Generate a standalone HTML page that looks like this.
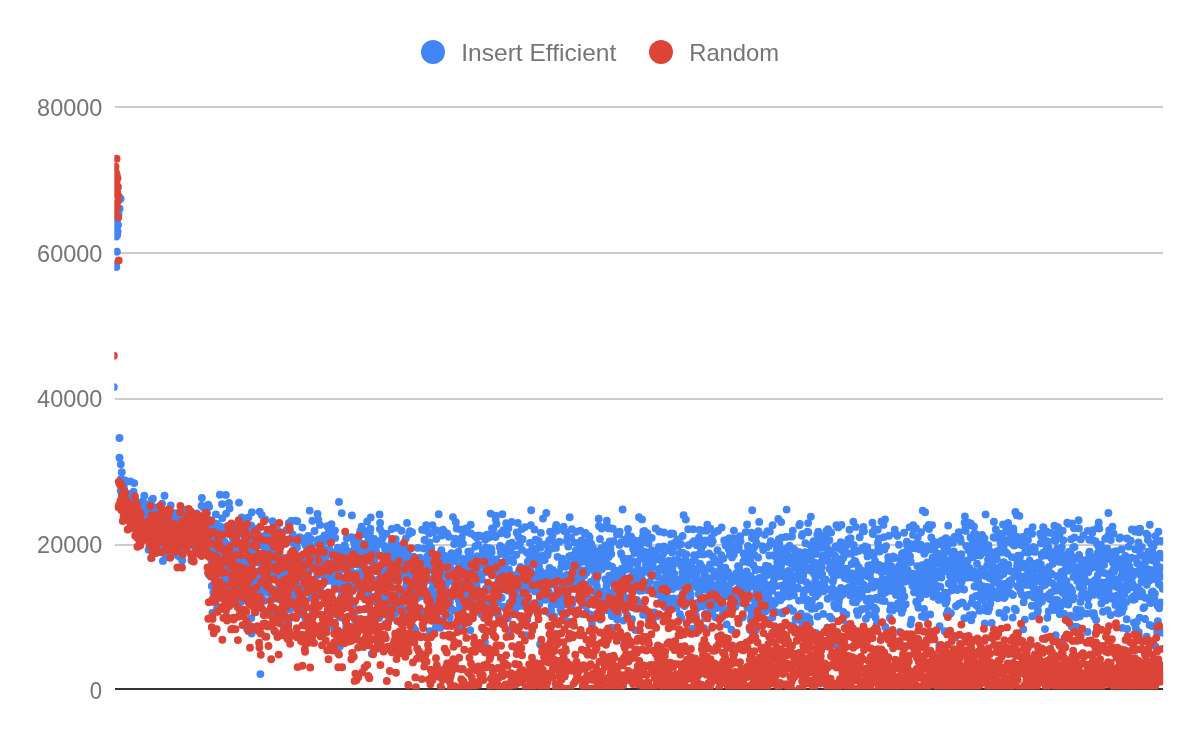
<!DOCTYPE html>
<html><head><meta charset="utf-8"><title>Chart</title>
<style>
html,body{margin:0;padding:0;background:#fff;}
svg{display:block}
text{font-family:"Liberation Sans",sans-serif;fill:#757575}
</style></head><body>
<svg width="1200" height="742" viewBox="0 0 1200 742">
<rect width="1200" height="742" fill="#fff"/>
<defs><clipPath id="c"><rect x="114.3" y="100" width="1048.9" height="589.6"/></clipPath></defs>
<g fill="#ccc">
<rect x="115" y="106" width="1048" height="2"/>
<rect x="115" y="252" width="1048" height="2"/>
<rect x="115" y="398" width="1048" height="2"/>
<rect x="115" y="544" width="1048" height="2"/>
</g>
<rect x="115" y="688" width="1048" height="2" fill="#333"/>
<g clip-path="url(#c)" fill="none" stroke-width="7.9" stroke-linecap="round">
<path stroke="#4285f4" d="M113.8 387.1h0M116.9 251.8h0M116.3 267.1h0M116.0 264.1h0M120.6 198.7h0M119.6 208.8h0M117.5 219.0h0M118.5 213.9h0M117.0 229.2h0M116.5 233.6h0M117.6 231.4h0M116.2 236.5h0M117.2 235.0h0M115.5 227.8h0M118.0 224.9h0M115.2 221.9h0M119.5 438.0h0M119.5 457.7h0M120.8 464.2h0M121.8 472.2h0M122.5 482.4h0M121.0 478.8h0M134.2 483.1h0M123.0 488.2h0M124.0 491.1h0M120.7 490.7h0M121.0 481.7h0M121.2 479.0h0M121.5 490.1h0M121.8 496.6h0M122.0 489.5h0M122.3 487.0h0M122.6 483.9h0M122.8 499.9h0M123.1 501.3h0M123.4 489.0h0M123.6 491.2h0M123.9 485.0h0M124.2 489.2h0M124.4 496.9h0M124.7 498.6h0M125.0 480.5h0M125.3 499.7h0M125.5 503.4h0M125.8 506.2h0M126.1 498.5h0M126.3 498.6h0M126.6 502.1h0M126.9 500.6h0M127.1 498.7h0M127.4 496.3h0M127.7 493.9h0M127.9 499.9h0M128.2 513.3h0M128.5 497.2h0M128.7 511.3h0M129.0 503.3h0M129.3 512.0h0M129.6 502.5h0M129.8 507.8h0M130.1 501.4h0M130.4 481.4h0M130.6 503.4h0M130.9 497.7h0M131.2 512.0h0M131.4 505.3h0M131.7 499.2h0M132.0 504.2h0M132.2 501.3h0M132.5 503.1h0M132.8 510.4h0M133.1 500.2h0M133.3 509.3h0M133.6 491.8h0M133.9 507.4h0M134.1 499.7h0M134.4 504.2h0M134.7 498.0h0M134.9 508.3h0M135.2 509.5h0M135.5 523.5h0M135.7 506.5h0M136.0 514.5h0M136.3 520.6h0M136.5 532.1h0M136.8 513.1h0M137.1 516.9h0M137.4 502.5h0M137.6 527.6h0M137.9 516.2h0M138.2 516.9h0M138.4 519.8h0M138.7 520.8h0M139.0 521.2h0M139.2 531.0h0M139.5 536.3h0M139.8 528.7h0M140.0 516.6h0M140.3 505.4h0M140.6 512.1h0M140.8 511.3h0M141.1 514.8h0M141.4 515.9h0M141.7 522.4h0M141.9 515.2h0M142.2 502.9h0M142.5 529.1h0M142.7 533.7h0M143.0 501.0h0M143.3 522.3h0M143.5 513.5h0M143.8 514.8h0M144.1 539.7h0M144.3 495.7h0M144.6 504.0h0M144.9 523.9h0M145.1 516.9h0M145.4 524.7h0M145.7 537.3h0M146.0 527.9h0M146.2 522.0h0M146.5 512.9h0M146.8 518.1h0M147.0 526.2h0M147.3 510.3h0M147.6 536.6h0M147.8 517.5h0M148.1 513.7h0M148.4 531.2h0M148.6 549.8h0M148.9 539.0h0M149.2 525.0h0M149.4 521.5h0M149.7 509.0h0M150.0 540.7h0M150.3 528.3h0M150.5 520.5h0M150.8 530.5h0M151.1 558.0h0M151.3 518.8h0M151.6 500.3h0M151.9 516.6h0M152.1 540.5h0M152.4 534.4h0M152.7 526.7h0M152.9 498.7h0M153.2 522.0h0M153.5 528.3h0M153.8 510.6h0M154.0 531.0h0M154.3 507.1h0M154.6 538.7h0M154.8 536.2h0M155.1 521.5h0M155.4 512.8h0M155.6 522.3h0M155.9 526.7h0M156.2 553.0h0M156.4 539.3h0M156.7 538.0h0M157.0 537.1h0M157.2 523.2h0M157.5 534.6h0M157.8 520.7h0M158.1 529.5h0M158.3 534.6h0M158.6 529.0h0M158.9 525.2h0M159.1 519.9h0M159.4 536.4h0M159.7 533.4h0M159.9 547.4h0M160.2 510.7h0M160.5 512.6h0M160.7 532.8h0M161.0 536.5h0M161.3 545.9h0M161.5 528.5h0M161.8 528.0h0M162.1 503.6h0M162.4 527.6h0M162.6 540.2h0M162.9 560.9h0M163.2 513.2h0M163.4 528.3h0M163.7 550.5h0M164.0 528.4h0M164.2 550.6h0M164.5 495.7h0M164.8 516.8h0M165.0 523.6h0M165.3 532.9h0M165.6 557.2h0M165.8 532.3h0M166.1 549.9h0M166.4 523.3h0M166.7 557.2h0M166.9 542.0h0M167.2 515.7h0M167.5 510.4h0M167.7 545.4h0M168.0 549.7h0M168.3 519.9h0M168.5 520.2h0M168.8 543.0h0M169.1 539.4h0M169.3 539.4h0M169.6 545.5h0M169.9 539.2h0M170.2 515.4h0M170.4 522.3h0M170.7 505.4h0M171.0 531.9h0M171.2 532.5h0M171.5 543.0h0M171.8 532.4h0M172.0 547.1h0M172.3 552.9h0M172.6 522.3h0M172.8 513.1h0M173.1 520.6h0M173.4 514.4h0M173.6 527.8h0M173.9 539.8h0M174.2 529.9h0M174.5 535.6h0M174.7 544.7h0M175.0 551.9h0M175.3 549.3h0M175.5 531.0h0M175.8 529.1h0M176.1 536.9h0M176.3 513.3h0M176.6 528.8h0M176.9 523.8h0M177.1 515.9h0M177.4 541.2h0M177.7 555.4h0M177.9 521.7h0M178.2 539.6h0M178.5 514.8h0M178.8 526.9h0M179.0 518.6h0M179.3 521.6h0M179.6 556.8h0M179.8 522.2h0M180.1 539.4h0M180.4 540.5h0M180.6 536.5h0M180.9 521.6h0M181.2 520.2h0M181.4 518.6h0M181.7 551.7h0M182.0 538.4h0M182.2 560.5h0M182.5 532.4h0M182.8 523.7h0M183.1 540.6h0M183.3 528.2h0M183.6 528.3h0M183.9 518.7h0M184.1 541.4h0M184.4 541.5h0M184.7 540.7h0M184.9 509.6h0M185.2 517.7h0M185.5 532.8h0M185.7 528.5h0M186.0 529.8h0M186.3 528.8h0M186.6 533.9h0M186.8 535.4h0M187.1 546.8h0M187.4 539.2h0M187.6 510.9h0M187.9 524.7h0M188.2 530.5h0M188.4 534.0h0M188.7 530.6h0M189.0 527.0h0M189.2 539.3h0M189.5 528.9h0M189.8 528.4h0M190.0 540.6h0M190.3 541.1h0M190.6 543.7h0M190.9 544.5h0M191.1 520.4h0M191.4 560.6h0M191.7 534.7h0M191.9 539.0h0M192.2 539.1h0M192.5 530.2h0M192.7 517.5h0M193.0 530.5h0M193.3 533.2h0M193.5 539.0h0M193.8 533.1h0M194.1 520.2h0M194.3 536.4h0M194.6 545.7h0M194.9 547.1h0M195.2 545.2h0M195.4 548.7h0M195.7 517.9h0M196.0 527.1h0M196.2 534.5h0M196.5 513.5h0M196.8 539.7h0M197.0 522.2h0M197.3 521.7h0M197.6 550.7h0M197.8 550.8h0M198.1 543.1h0M198.4 520.4h0M198.6 515.6h0M198.9 546.8h0M199.2 518.7h0M199.5 536.4h0M199.7 536.5h0M200.0 538.5h0M200.3 535.7h0M200.5 554.1h0M200.8 544.0h0M201.1 547.0h0M201.3 525.6h0M201.6 505.8h0M201.9 497.9h0M202.1 535.9h0M202.4 553.0h0M202.7 536.7h0M203.0 543.3h0M203.2 507.2h0M203.5 524.7h0M203.8 540.8h0M204.0 520.2h0M204.3 525.1h0M204.6 551.9h0M204.8 538.3h0M205.1 534.7h0M205.4 531.6h0M205.6 530.2h0M205.9 536.0h0M206.2 529.5h0M206.4 539.1h0M206.7 542.9h0M207.0 513.1h0M207.3 527.4h0M207.5 526.4h0M207.8 551.6h0M208.1 527.8h0M208.3 504.8h0M208.6 574.2h0M208.9 546.7h0M209.1 506.8h0M209.4 532.3h0M209.7 556.4h0M209.9 529.0h0M210.2 550.1h0M210.5 520.1h0M210.7 557.0h0M211.0 559.0h0M211.3 554.8h0M211.6 538.7h0M211.8 586.0h0M212.1 539.4h0M212.4 613.0h0M212.6 523.7h0M212.9 573.3h0M213.2 564.9h0M213.4 592.5h0M213.7 554.8h0M214.0 536.5h0M214.2 562.5h0M214.5 559.5h0M214.8 542.5h0M215.0 545.6h0M215.3 523.5h0M215.6 601.9h0M215.9 514.4h0M216.1 527.0h0M216.4 526.5h0M216.7 523.9h0M216.9 608.8h0M217.2 526.5h0M217.5 542.5h0M217.7 550.3h0M218.0 573.0h0M218.3 541.0h0M218.5 581.1h0M218.8 531.2h0M219.1 573.3h0M219.3 555.6h0M219.6 559.5h0M219.9 494.8h0M220.2 527.7h0M220.4 558.1h0M220.7 526.6h0M221.0 535.5h0M221.2 558.3h0M221.5 533.7h0M221.8 535.3h0M222.0 504.1h0M222.3 518.2h0M222.6 560.0h0M222.8 561.2h0M223.1 590.4h0M223.4 587.7h0M223.7 562.7h0M223.9 563.1h0M224.2 541.2h0M224.5 529.2h0M224.7 578.8h0M225.0 580.4h0M225.3 546.8h0M225.5 546.6h0M225.8 494.9h0M226.1 513.6h0M226.3 544.3h0M226.6 548.3h0M226.9 564.9h0M227.1 526.4h0M227.4 553.4h0M227.7 552.3h0M228.0 557.9h0M228.2 568.3h0M228.5 571.4h0M228.8 571.5h0M229.0 503.0h0M229.3 533.9h0M229.6 508.5h0M229.8 589.1h0M230.1 526.7h0M230.4 551.5h0M230.6 577.4h0M230.9 566.3h0M231.2 555.9h0M231.4 553.2h0M231.7 529.7h0M232.0 578.4h0M232.3 549.0h0M232.5 550.4h0M232.8 538.4h0M233.1 567.9h0M233.3 538.6h0M233.6 562.9h0M233.9 542.3h0M234.1 587.7h0M234.4 550.5h0M234.7 589.2h0M234.9 526.5h0M235.2 526.3h0M235.5 531.5h0M235.7 547.0h0M236.0 537.9h0M236.3 548.8h0M236.6 544.7h0M236.8 562.0h0M237.1 535.2h0M237.4 541.6h0M237.6 589.2h0M237.9 529.3h0M238.2 562.4h0M238.4 584.5h0M238.7 525.0h0M239.0 502.6h0M239.2 559.2h0M239.5 533.4h0M239.8 559.5h0M240.1 574.3h0M240.3 565.5h0M240.6 526.7h0M240.9 601.9h0M241.1 578.4h0M241.4 562.9h0M241.7 517.5h0M241.9 557.2h0M242.2 533.7h0M242.5 578.8h0M242.7 532.4h0M243.0 558.0h0M243.3 599.3h0M243.5 527.8h0M243.8 567.5h0M244.1 525.6h0M244.4 522.9h0M244.6 561.8h0M244.9 537.3h0M245.2 542.5h0M245.4 549.4h0M245.7 559.5h0M246.0 564.8h0M246.2 572.6h0M246.5 524.1h0M246.8 573.1h0M247.0 628.7h0M247.3 600.8h0M247.6 546.7h0M247.8 558.3h0M248.1 558.6h0M248.4 517.4h0M248.7 530.4h0M248.9 529.0h0M249.2 601.0h0M249.5 534.1h0M249.7 597.3h0M250.0 549.4h0M250.3 551.4h0M250.5 540.2h0M250.8 563.7h0M251.1 525.5h0M251.3 618.1h0M251.6 633.6h0M251.9 512.3h0M252.1 583.2h0M252.4 559.2h0M252.7 535.5h0M253.0 530.7h0M253.2 543.3h0M253.5 549.6h0M253.8 592.7h0M254.0 591.7h0M254.3 549.6h0M254.6 604.6h0M254.8 545.9h0M255.1 581.1h0M255.4 571.6h0M255.6 612.3h0M255.9 546.5h0M256.2 578.9h0M256.5 582.7h0M256.7 599.3h0M257.0 531.2h0M257.3 528.7h0M257.5 545.0h0M257.8 542.0h0M258.1 574.5h0M258.3 576.7h0M258.6 606.1h0M258.9 536.6h0M259.1 554.1h0M259.4 562.7h0M259.7 511.8h0M259.9 527.6h0M260.2 594.1h0M260.5 601.9h0M260.8 543.7h0M261.0 573.5h0M261.3 558.9h0M261.6 597.8h0M261.8 515.1h0M262.1 587.4h0M262.4 592.0h0M262.6 545.8h0M262.9 565.3h0M263.2 599.6h0M263.4 573.1h0M263.7 582.5h0M264.0 539.0h0M264.2 577.4h0M264.5 600.8h0M264.8 535.6h0M265.1 541.1h0M265.3 519.4h0M265.6 546.7h0M265.9 584.4h0M266.1 571.5h0M266.4 578.8h0M266.7 542.6h0M266.9 572.2h0M267.2 551.8h0M267.5 534.5h0M267.7 572.3h0M268.0 566.9h0M268.3 584.6h0M268.5 553.9h0M268.8 593.0h0M269.1 591.3h0M269.4 575.7h0M269.6 551.3h0M269.9 591.1h0M270.2 591.5h0M270.4 564.0h0M270.7 541.7h0M271.0 566.9h0M271.2 531.7h0M271.5 544.3h0M271.8 614.5h0M272.0 545.7h0M272.3 568.8h0M272.6 521.2h0M272.9 537.0h0M273.1 562.9h0M273.4 596.9h0M273.7 576.0h0M273.9 534.0h0M274.2 598.8h0M274.5 531.5h0M274.7 570.7h0M275.0 553.6h0M275.3 631.9h0M275.5 539.9h0M275.8 531.6h0M276.1 549.7h0M276.3 575.6h0M276.6 544.4h0M276.9 572.0h0M277.2 589.2h0M277.4 569.3h0M277.7 530.4h0M278.0 565.8h0M278.2 537.8h0M278.5 541.4h0M278.8 592.0h0M279.0 598.7h0M279.3 574.6h0M279.6 598.3h0M279.8 560.0h0M280.1 568.5h0M280.4 571.1h0M280.6 569.7h0M280.9 557.3h0M281.2 575.2h0M281.5 535.4h0M281.7 557.5h0M282.0 578.2h0M282.3 571.3h0M282.5 558.1h0M282.8 540.0h0M283.1 623.7h0M283.3 613.3h0M283.6 599.1h0M283.9 584.5h0M284.1 567.4h0M284.4 596.4h0M284.7 543.6h0M284.9 574.0h0M285.2 565.5h0M285.5 572.9h0M285.8 580.8h0M286.0 605.1h0M286.3 558.5h0M286.6 529.9h0M286.8 628.1h0M287.1 530.1h0M287.4 581.2h0M287.6 586.4h0M287.9 577.6h0M288.2 594.9h0M288.4 621.9h0M288.7 523.1h0M289.0 540.5h0M289.2 569.0h0M289.5 526.0h0M289.8 591.5h0M290.1 609.6h0M290.3 569.5h0M290.6 576.6h0M290.9 567.9h0M291.1 520.9h0M291.4 570.7h0M291.7 584.4h0M291.9 603.0h0M292.2 587.9h0M292.5 555.4h0M292.7 534.5h0M293.0 543.0h0M293.3 599.3h0M293.6 563.7h0M293.8 576.4h0M294.1 593.3h0M294.4 579.1h0M294.6 562.2h0M294.9 551.6h0M295.2 602.5h0M295.4 575.1h0M295.7 520.7h0M296.0 586.4h0M296.2 584.0h0M296.5 568.5h0M296.8 567.5h0M297.0 547.5h0M297.3 521.3h0M297.6 573.6h0M297.9 598.8h0M298.1 589.5h0M298.4 557.4h0M298.7 571.5h0M298.9 558.8h0M299.2 540.5h0M299.5 537.3h0M299.7 608.4h0M300.0 585.5h0M300.3 596.1h0M300.5 607.4h0M300.8 567.4h0M301.1 602.0h0M301.3 614.4h0M301.6 570.9h0M301.9 590.7h0M302.2 600.4h0M302.4 527.6h0M302.7 602.3h0M303.0 538.7h0M303.2 573.6h0M303.5 603.1h0M303.8 585.0h0M304.0 592.8h0M304.3 558.2h0M304.6 563.4h0M304.8 579.3h0M305.1 543.8h0M305.4 618.5h0M305.6 601.1h0M305.9 545.6h0M306.2 574.0h0M306.5 553.9h0M306.7 585.8h0M307.0 587.3h0M307.3 583.9h0M307.5 564.5h0M307.8 544.1h0M308.1 535.9h0M308.3 578.7h0M308.6 560.4h0M308.9 571.4h0M309.1 551.1h0M309.4 544.6h0M309.7 510.6h0M310.0 545.1h0M310.2 556.9h0M310.5 563.5h0M310.8 616.7h0M311.0 538.9h0M311.3 557.5h0M311.6 597.2h0M311.8 550.4h0M312.1 560.4h0M312.4 520.8h0M312.6 553.4h0M312.9 612.1h0M313.2 556.6h0M313.4 582.2h0M313.7 566.8h0M314.0 586.7h0M314.3 605.2h0M314.5 531.0h0M314.8 558.5h0M315.1 580.0h0M315.3 566.7h0M315.6 591.8h0M315.9 596.0h0M316.1 565.9h0M316.4 589.2h0M316.7 587.8h0M316.9 569.8h0M317.2 573.3h0M317.5 514.0h0M317.7 543.6h0M318.0 575.1h0M318.3 519.6h0M318.6 539.4h0M318.8 543.4h0M319.1 585.6h0M319.4 560.8h0M319.6 594.9h0M319.9 524.9h0M320.2 539.4h0M320.4 541.9h0M320.7 595.9h0M321.0 586.6h0M321.2 557.2h0M321.5 560.4h0M321.8 569.3h0M322.0 568.1h0M322.3 635.5h0M322.6 538.1h0M322.9 538.9h0M323.1 568.5h0M323.4 548.6h0M323.7 555.0h0M323.9 575.7h0M324.2 595.4h0M324.5 535.4h0M324.7 539.0h0M325.0 569.4h0M325.3 557.5h0M325.5 574.9h0M325.8 552.9h0M326.1 618.6h0M326.4 541.3h0M326.6 626.3h0M326.9 551.7h0M327.2 526.2h0M327.4 572.0h0M327.7 535.2h0M328.0 580.7h0M328.2 566.7h0M328.5 574.7h0M328.8 532.3h0M329.0 574.8h0M329.3 549.1h0M329.6 575.2h0M329.8 601.7h0M330.1 535.8h0M330.4 566.2h0M330.7 551.4h0M330.9 554.3h0M331.2 524.7h0M331.5 524.3h0M331.7 540.0h0M332.0 613.3h0M332.3 572.3h0M332.5 530.8h0M332.8 569.5h0M333.1 531.5h0M333.3 577.7h0M333.6 559.6h0M333.9 557.8h0M334.1 628.8h0M334.4 583.8h0M334.7 588.3h0M335.0 530.6h0M335.2 537.9h0M335.5 576.6h0M335.8 584.2h0M336.0 573.5h0M336.3 578.0h0M336.6 552.9h0M336.8 561.1h0M337.1 553.2h0M337.4 572.6h0M337.6 558.8h0M337.9 547.8h0M338.2 614.2h0M338.4 587.7h0M338.7 550.7h0M339.0 501.9h0M339.3 553.8h0M339.5 617.1h0M339.8 646.6h0M340.1 576.9h0M340.3 555.5h0M340.6 586.8h0M340.9 565.5h0M341.1 549.7h0M341.4 569.6h0M341.7 513.1h0M341.9 593.7h0M342.2 617.7h0M342.5 583.7h0M342.8 578.8h0M343.0 553.4h0M343.3 568.5h0M343.6 600.0h0M343.8 564.6h0M344.1 550.0h0M344.4 557.4h0M344.6 545.2h0M344.9 590.2h0M345.2 547.8h0M345.4 588.2h0M345.7 566.4h0M346.0 622.2h0M346.2 627.2h0M346.5 557.0h0M346.8 538.3h0M347.1 550.9h0M347.3 581.1h0M347.6 574.3h0M347.9 583.5h0M348.1 617.1h0M348.4 588.5h0M348.7 604.9h0M348.9 579.7h0M349.2 564.3h0M349.5 596.3h0M349.7 556.9h0M350.0 573.9h0M350.3 570.3h0M350.5 569.9h0M350.8 632.3h0M351.1 584.8h0M351.4 537.2h0M351.6 601.8h0M351.9 515.4h0M352.2 560.5h0M352.4 590.2h0M352.7 626.5h0M353.0 604.9h0M353.2 552.4h0M353.5 550.8h0M353.8 553.7h0M354.0 542.0h0M354.3 552.3h0M354.6 613.2h0M354.8 545.1h0M355.1 538.0h0M355.4 576.5h0M355.7 581.5h0M355.9 558.6h0M356.2 632.3h0M356.5 576.3h0M356.7 573.3h0M357.0 560.6h0M357.3 621.2h0M357.5 574.5h0M357.8 584.0h0M358.1 548.9h0M358.3 564.7h0M358.6 549.8h0M358.9 541.8h0M359.1 583.0h0M359.4 609.4h0M359.7 580.8h0M360.0 589.7h0M360.2 531.2h0M360.5 564.4h0M360.8 576.9h0M361.0 543.7h0M361.3 572.1h0M361.6 526.7h0M361.8 557.6h0M362.1 553.2h0M362.4 534.3h0M362.6 532.1h0M362.9 565.4h0M363.2 561.1h0M363.5 560.6h0M363.7 595.6h0M364.0 593.3h0M364.3 582.2h0M364.5 531.0h0M364.8 543.9h0M365.1 584.0h0M365.3 574.0h0M365.6 637.9h0M365.9 608.8h0M366.1 558.8h0M366.4 548.3h0M366.7 592.1h0M366.9 534.4h0M367.2 521.5h0M367.5 542.9h0M367.8 544.7h0M368.0 600.5h0M368.3 540.2h0M368.6 551.7h0M368.8 594.8h0M369.1 586.1h0M369.4 554.8h0M369.6 575.0h0M369.9 533.1h0M370.2 569.8h0M370.4 528.8h0M370.7 517.4h0M371.0 613.0h0M371.2 586.8h0M371.5 554.9h0M371.8 653.7h0M372.1 547.4h0M372.3 540.3h0M372.6 563.2h0M372.9 597.3h0M373.1 587.0h0M373.4 570.4h0M373.7 617.6h0M373.9 565.6h0M374.2 538.9h0M374.5 584.4h0M374.7 559.0h0M375.0 580.4h0M375.3 601.2h0M375.5 587.5h0M375.8 555.9h0M376.1 550.8h0M376.4 627.1h0M376.6 570.5h0M376.9 566.0h0M377.2 544.4h0M377.4 582.9h0M377.7 594.4h0M378.0 542.5h0M378.2 639.3h0M378.5 570.0h0M378.8 579.5h0M379.0 541.0h0M379.3 617.9h0M379.6 514.4h0M379.9 528.9h0M380.1 522.9h0M380.4 588.3h0M380.7 589.7h0M380.9 582.2h0M381.2 587.5h0M381.5 576.5h0M381.7 542.9h0M382.0 577.2h0M382.3 532.7h0M382.5 555.5h0M382.8 537.5h0M383.1 572.4h0M383.3 582.1h0M383.6 545.4h0M383.9 595.8h0M384.2 576.2h0M384.4 568.2h0M384.7 600.9h0M385.0 597.5h0M385.2 549.2h0M385.5 564.9h0M385.8 548.6h0M386.0 561.5h0M386.3 557.8h0M386.6 533.9h0M386.8 560.0h0M387.1 588.6h0M387.4 562.6h0M387.6 552.1h0M387.9 561.9h0M388.2 556.0h0M388.5 620.8h0M388.7 582.8h0M389.0 610.0h0M389.3 585.4h0M389.5 560.5h0M389.8 548.9h0M390.1 572.5h0M390.3 601.2h0M390.6 618.2h0M390.9 598.2h0M391.1 606.6h0M391.4 543.6h0M391.7 529.0h0M391.9 558.2h0M392.2 542.4h0M392.5 596.1h0M392.8 563.0h0M393.0 556.3h0M393.3 580.2h0M393.6 605.1h0M393.8 579.9h0M394.1 562.6h0M394.4 558.9h0M394.6 549.3h0M394.9 556.1h0M395.2 601.8h0M395.4 613.3h0M395.7 539.1h0M396.0 575.2h0M396.3 610.4h0M396.5 547.2h0M396.8 562.3h0M397.1 527.8h0M397.3 544.9h0M397.6 573.4h0M397.9 588.9h0M398.1 574.7h0M398.4 591.4h0M398.7 593.8h0M398.9 565.6h0M399.2 556.6h0M399.5 593.6h0M399.7 564.8h0M400.0 551.2h0M400.3 573.1h0M400.6 604.9h0M400.8 562.6h0M401.1 591.6h0M401.4 555.8h0M401.6 530.7h0M401.9 577.1h0M402.2 591.8h0M402.4 591.5h0M402.7 557.8h0M403.0 552.9h0M403.2 564.0h0M403.5 609.2h0M403.8 619.3h0M404.0 598.4h0M404.3 567.6h0M404.6 546.3h0M404.9 590.9h0M405.1 577.6h0M405.4 558.9h0M405.7 620.5h0M405.9 538.5h0M406.2 585.3h0M406.5 548.9h0M406.7 581.9h0M407.0 522.9h0M407.3 569.0h0M407.5 556.1h0M407.8 552.1h0M408.1 574.7h0M408.3 614.8h0M408.6 557.0h0M408.9 617.8h0M409.2 533.8h0M409.4 584.9h0M409.7 596.7h0M410.0 531.1h0M410.2 567.9h0M410.5 558.7h0M410.8 620.2h0M411.0 560.2h0M411.3 558.1h0M411.6 589.2h0M411.8 619.7h0M412.1 532.2h0M412.4 566.8h0M412.7 570.2h0M412.9 561.1h0M413.2 627.3h0M413.5 618.3h0M413.7 556.7h0M414.0 613.9h0M414.3 579.3h0M414.5 590.6h0M414.8 565.0h0M415.1 629.8h0M415.3 576.9h0M415.6 589.2h0M415.9 576.3h0M416.1 594.1h0M416.4 562.3h0M416.7 581.1h0M417.0 562.1h0M417.2 598.0h0M417.5 560.2h0M417.8 547.9h0M418.0 573.9h0M418.3 569.9h0M418.6 568.0h0M418.8 615.5h0M419.1 579.2h0M419.4 558.4h0M419.6 573.3h0M419.9 557.7h0M420.2 593.4h0M420.4 585.8h0M420.7 595.7h0M421.0 610.9h0M421.3 596.3h0M421.5 574.1h0M421.8 593.0h0M422.1 529.7h0M422.3 560.3h0M422.6 559.6h0M422.9 581.6h0M423.1 591.3h0M423.4 574.9h0M423.7 589.8h0M423.9 548.4h0M424.2 578.0h0M424.5 540.0h0M424.7 582.1h0M425.0 564.3h0M425.3 530.3h0M425.6 527.7h0M425.8 561.7h0M426.1 525.2h0M426.4 528.2h0M426.6 569.3h0M426.9 579.2h0M427.2 613.5h0M427.4 556.3h0M427.7 561.1h0M428.0 549.6h0M428.2 548.4h0M428.5 594.0h0M428.8 591.5h0M429.1 533.6h0M429.3 542.4h0M429.6 631.3h0M429.9 593.1h0M430.1 562.6h0M430.4 552.4h0M430.7 549.9h0M430.9 559.3h0M431.2 547.7h0M431.5 570.0h0M431.7 598.2h0M432.0 581.2h0M432.3 601.0h0M432.5 525.1h0M432.8 587.5h0M433.1 601.4h0M433.4 600.5h0M433.6 532.0h0M433.9 577.1h0M434.2 630.4h0M434.4 594.5h0M434.7 602.8h0M435.0 601.4h0M435.2 561.8h0M435.5 557.2h0M435.8 595.3h0M436.0 626.7h0M436.3 539.0h0M436.6 593.6h0M436.8 530.5h0M437.1 618.0h0M437.4 584.7h0M437.7 583.8h0M437.9 611.7h0M438.2 571.1h0M438.5 565.5h0M438.7 514.3h0M439.0 559.7h0M439.3 565.9h0M439.5 564.5h0M439.8 568.8h0M440.1 553.4h0M440.3 627.8h0M440.6 581.3h0M440.9 581.9h0M441.1 556.5h0M441.4 550.3h0M441.7 535.5h0M442.0 590.8h0M442.2 559.3h0M442.5 563.0h0M442.8 601.2h0M443.0 529.7h0M443.3 555.7h0M443.6 533.2h0M443.8 530.9h0M444.1 589.1h0M444.4 557.9h0M444.6 574.5h0M444.9 556.3h0M445.2 615.7h0M445.4 555.9h0M445.7 573.6h0M446.0 585.0h0M446.3 558.2h0M446.5 558.9h0M446.8 626.0h0M447.1 533.5h0M447.3 561.1h0M447.6 565.3h0M447.9 581.1h0M448.1 562.8h0M448.4 556.7h0M448.7 562.1h0M448.9 536.8h0M449.2 594.9h0M449.5 603.7h0M449.8 616.9h0M450.0 601.8h0M450.3 623.7h0M450.6 561.5h0M450.8 561.7h0M451.1 569.1h0M451.4 608.8h0M451.6 553.3h0M451.9 570.4h0M452.2 555.2h0M452.4 553.5h0M452.7 561.5h0M453.0 517.1h0M453.2 574.7h0M453.5 582.1h0M453.8 610.4h0M454.1 544.0h0M454.3 595.4h0M454.6 554.7h0M454.9 538.6h0M455.1 559.4h0M455.4 577.2h0M455.7 591.5h0M455.9 522.2h0M456.2 556.0h0M456.5 581.9h0M456.7 528.5h0M457.0 573.3h0M457.3 556.7h0M457.5 572.0h0M457.8 581.8h0M458.1 629.0h0M458.4 551.7h0M458.6 599.8h0M458.9 577.3h0M459.2 565.7h0M459.4 540.3h0M459.7 604.6h0M460.0 592.8h0M460.2 569.1h0M460.5 544.4h0M460.8 608.6h0M461.0 594.0h0M461.3 529.8h0M461.6 599.4h0M461.8 537.5h0M462.1 586.7h0M462.4 558.7h0M462.7 569.7h0M462.9 543.5h0M463.2 605.5h0M463.5 624.3h0M463.7 595.8h0M464.0 590.9h0M464.3 566.0h0M464.5 574.2h0M464.8 582.7h0M465.1 616.8h0M465.3 569.4h0M465.6 531.9h0M465.9 528.4h0M466.2 603.8h0M466.4 572.0h0M466.7 578.2h0M467.0 559.3h0M467.2 622.2h0M467.5 530.7h0M467.8 569.6h0M468.0 566.0h0M468.3 551.8h0M468.6 580.8h0M468.8 596.1h0M469.1 554.7h0M469.4 596.6h0M469.6 573.0h0M469.9 589.7h0M470.2 630.2h0M470.5 551.4h0M470.7 524.7h0M471.0 533.4h0M471.3 585.9h0M471.5 591.5h0M471.8 581.9h0M472.1 598.7h0M472.3 579.2h0M472.6 608.7h0M472.9 587.0h0M473.1 558.5h0M473.4 566.6h0M473.7 592.6h0M473.9 579.5h0M474.2 591.9h0M474.5 535.6h0M474.8 578.1h0M475.0 567.1h0M475.3 546.5h0M475.6 546.2h0M475.8 572.0h0M476.1 564.0h0M476.4 537.3h0M476.6 585.2h0M476.9 569.3h0M477.2 579.0h0M477.4 556.1h0M477.7 536.7h0M478.0 575.3h0M478.2 544.5h0M478.5 535.5h0M478.8 577.8h0M479.1 579.1h0M479.3 598.9h0M479.6 574.5h0M479.9 577.8h0M480.1 601.5h0M480.4 598.9h0M480.7 560.2h0M480.9 564.0h0M481.2 614.3h0M481.5 565.1h0M481.7 579.5h0M482.0 536.1h0M482.3 598.2h0M482.6 595.5h0M482.8 550.2h0M483.1 561.0h0M483.4 629.4h0M483.6 629.6h0M483.9 572.7h0M484.2 617.9h0M484.4 599.3h0M484.7 554.2h0M485.0 642.5h0M485.2 539.7h0M485.5 606.9h0M485.8 547.8h0M486.0 588.4h0M486.3 598.7h0M486.6 557.6h0M486.9 566.8h0M487.1 534.8h0M487.4 569.3h0M487.7 552.6h0M487.9 590.3h0M488.2 588.1h0M488.5 583.6h0M488.7 554.3h0M489.0 537.6h0M489.3 548.3h0M489.5 567.9h0M489.8 605.2h0M490.1 606.0h0M490.3 573.1h0M490.6 513.6h0M490.9 558.4h0M491.2 560.6h0M491.4 549.0h0M491.7 552.2h0M492.0 528.5h0M492.2 570.2h0M492.5 588.8h0M492.8 533.5h0M493.0 609.0h0M493.3 528.7h0M493.6 612.2h0M493.8 570.8h0M494.1 591.2h0M494.4 589.1h0M494.6 602.0h0M494.9 559.7h0M495.2 563.2h0M495.5 537.1h0M495.7 519.2h0M496.0 515.6h0M496.3 559.4h0M496.5 523.9h0M496.8 572.9h0M497.1 568.1h0M497.3 574.1h0M497.6 584.6h0M497.9 602.5h0M498.1 615.0h0M498.4 579.0h0M498.7 580.8h0M498.9 579.9h0M499.2 583.3h0M499.5 580.6h0M499.8 547.0h0M500.0 579.5h0M500.3 545.9h0M500.6 533.3h0M500.8 551.9h0M501.1 580.4h0M501.4 553.9h0M501.6 597.7h0M501.9 582.0h0M502.2 572.2h0M502.4 514.3h0M502.7 623.6h0M503.0 583.9h0M503.3 530.3h0M503.5 606.8h0M503.8 624.6h0M504.1 566.1h0M504.3 579.0h0M504.6 607.5h0M504.9 561.7h0M505.1 581.5h0M505.4 549.7h0M505.7 589.0h0M505.9 554.5h0M506.2 523.1h0M506.5 561.7h0M506.7 558.6h0M507.0 534.6h0M507.3 590.6h0M507.6 560.6h0M507.8 618.3h0M508.1 546.0h0M508.4 528.3h0M508.6 551.7h0M508.9 569.5h0M509.2 630.8h0M509.4 543.8h0M509.7 602.9h0M510.0 590.1h0M510.2 573.9h0M510.5 581.9h0M510.8 551.6h0M511.0 579.4h0M511.3 585.4h0M511.6 522.0h0M511.9 542.7h0M512.1 593.5h0M512.4 597.8h0M512.7 559.3h0M512.9 584.2h0M513.2 562.1h0M513.5 628.3h0M513.7 594.0h0M514.0 601.3h0M514.3 614.1h0M514.5 608.2h0M514.8 575.3h0M515.1 610.4h0M515.3 591.5h0M515.6 545.9h0M515.9 596.1h0M516.2 545.8h0M516.4 554.8h0M516.7 532.5h0M517.0 578.5h0M517.2 533.3h0M517.5 601.3h0M517.8 522.9h0M518.0 588.3h0M518.3 584.7h0M518.6 537.0h0M518.8 606.1h0M519.1 570.7h0M519.4 599.6h0M519.7 569.7h0M519.9 543.2h0M520.2 581.4h0M520.5 567.0h0M520.7 617.7h0M521.0 598.3h0M521.3 570.3h0M521.5 574.7h0M521.8 529.1h0M522.1 549.9h0M522.3 570.6h0M522.6 539.2h0M522.9 587.9h0M523.1 569.5h0M523.4 599.3h0M523.7 606.1h0M524.0 605.7h0M524.2 576.4h0M524.5 576.6h0M524.8 572.0h0M525.0 527.1h0M525.3 578.8h0M525.6 601.5h0M525.8 584.4h0M526.1 582.1h0M526.4 635.1h0M526.6 605.5h0M526.9 552.5h0M527.2 577.3h0M527.4 619.4h0M527.7 561.8h0M528.0 603.1h0M528.3 587.3h0M528.5 565.4h0M528.8 564.9h0M529.1 554.4h0M529.3 579.1h0M529.6 589.0h0M529.9 558.5h0M530.1 543.0h0M530.4 575.5h0M530.7 571.2h0M530.9 525.2h0M531.2 510.2h0M531.5 607.5h0M531.7 550.4h0M532.0 549.6h0M532.3 583.1h0M532.6 609.9h0M532.8 580.0h0M533.1 578.0h0M533.4 582.5h0M533.6 548.7h0M533.9 576.2h0M534.2 582.6h0M534.4 529.5h0M534.7 607.0h0M535.0 591.4h0M535.2 559.7h0M535.5 539.7h0M535.8 586.9h0M536.1 540.6h0M536.3 553.8h0M536.6 586.2h0M536.9 583.5h0M537.1 555.7h0M537.4 580.0h0M537.7 604.7h0M537.9 573.4h0M538.2 567.1h0M538.5 576.4h0M538.7 541.0h0M539.0 566.2h0M539.3 604.0h0M539.5 543.3h0M539.8 599.1h0M540.1 644.2h0M540.4 599.9h0M540.6 547.5h0M540.9 532.9h0M541.2 571.6h0M541.4 587.8h0M541.7 576.9h0M542.0 559.9h0M542.2 593.9h0M542.5 573.0h0M542.8 560.0h0M543.0 518.6h0M543.3 555.5h0M543.6 596.3h0M543.8 593.5h0M544.1 586.6h0M544.4 590.4h0M544.7 560.0h0M544.9 581.5h0M545.2 544.6h0M545.5 591.9h0M545.7 599.7h0M546.0 584.2h0M546.3 513.0h0M546.5 573.4h0M546.8 584.1h0M547.1 574.1h0M547.3 593.9h0M547.6 554.9h0M547.9 552.2h0M548.1 575.9h0M548.4 551.2h0M548.7 591.6h0M549.0 613.0h0M549.2 540.5h0M549.5 568.0h0M549.8 598.8h0M550.0 531.7h0M550.3 539.6h0M550.6 549.0h0M550.8 548.4h0M551.1 548.8h0M551.4 611.4h0M551.6 605.9h0M551.9 580.1h0M552.2 573.0h0M552.5 535.5h0M552.7 570.0h0M553.0 595.7h0M553.3 584.5h0M553.5 583.1h0M553.8 604.3h0M554.1 595.9h0M554.3 616.8h0M554.6 576.3h0M554.9 581.7h0M555.1 581.8h0M555.4 542.5h0M555.7 527.4h0M555.9 547.9h0M556.2 524.9h0M556.5 635.5h0M556.8 530.7h0M557.0 542.9h0M557.3 589.6h0M557.6 556.9h0M557.8 600.4h0M558.1 581.9h0M558.4 604.6h0M558.6 572.1h0M558.9 577.3h0M559.2 571.9h0M559.4 541.7h0M559.7 594.2h0M560.0 596.0h0M560.2 602.7h0M560.5 609.7h0M560.8 582.1h0M561.1 611.8h0M561.3 567.0h0M561.6 589.5h0M561.9 562.5h0M562.1 558.7h0M562.4 589.0h0M562.7 601.9h0M562.9 586.4h0M563.2 595.0h0M563.5 529.3h0M563.7 526.6h0M564.0 604.8h0M564.3 531.0h0M564.5 566.1h0M564.8 583.3h0M565.1 613.1h0M565.4 620.7h0M565.6 566.8h0M565.9 575.9h0M566.2 532.3h0M566.4 586.2h0M566.7 541.3h0M567.0 574.9h0M567.2 580.4h0M567.5 538.0h0M567.8 593.1h0M568.0 563.7h0M568.3 546.5h0M568.6 621.7h0M568.9 578.9h0M569.1 556.5h0M569.4 589.5h0M569.7 517.2h0M569.9 602.8h0M570.2 564.7h0M570.5 585.0h0M570.7 555.7h0M571.0 537.5h0M571.3 607.2h0M571.5 588.6h0M571.8 529.1h0M572.1 576.1h0M572.3 603.4h0M572.6 572.9h0M572.9 569.8h0M573.2 585.7h0M573.4 572.9h0M573.7 574.5h0M574.0 572.1h0M574.2 611.1h0M574.5 582.5h0M574.8 542.6h0M575.0 561.1h0M575.3 569.4h0M575.6 613.3h0M575.8 550.4h0M576.1 531.7h0M576.4 586.0h0M576.6 565.6h0M576.9 572.1h0M577.2 557.1h0M577.5 582.2h0M577.7 562.3h0M578.0 565.1h0M578.3 598.2h0M578.5 571.5h0M578.8 576.6h0M579.1 548.2h0M579.3 543.6h0M579.6 594.4h0M579.9 577.1h0M580.1 571.8h0M580.4 530.6h0M580.7 552.9h0M580.9 541.5h0M581.2 581.6h0M581.5 540.5h0M581.8 561.7h0M582.0 559.2h0M582.3 604.7h0M582.6 588.9h0M582.8 614.3h0M583.1 592.5h0M583.4 575.1h0M583.6 585.5h0M583.9 570.5h0M584.2 575.7h0M584.4 556.4h0M584.7 533.5h0M585.0 542.8h0M585.2 586.9h0M585.5 533.0h0M585.8 546.8h0M586.1 594.4h0M586.3 606.2h0M586.6 572.4h0M586.9 612.8h0M587.1 602.1h0M587.4 548.5h0M587.7 552.3h0M587.9 558.6h0M588.2 563.6h0M588.5 556.2h0M588.7 536.0h0M589.0 600.9h0M589.3 598.5h0M589.6 537.4h0M589.8 548.8h0M590.1 565.9h0M590.4 602.0h0M590.6 614.7h0M590.9 582.0h0M591.2 543.7h0M591.4 568.2h0M591.7 560.9h0M592.0 624.1h0M592.2 555.5h0M592.5 547.5h0M592.8 567.5h0M593.0 547.9h0M593.3 562.9h0M593.6 556.9h0M593.9 568.1h0M594.1 555.2h0M594.4 571.3h0M594.7 592.1h0M594.9 578.3h0M595.2 558.7h0M595.5 583.8h0M595.7 581.0h0M596.0 567.9h0M596.3 579.9h0M596.5 562.7h0M596.8 586.0h0M597.1 613.4h0M597.3 554.3h0M597.6 576.5h0M597.9 573.3h0M598.2 601.7h0M598.4 603.4h0M598.7 518.8h0M599.0 526.0h0M599.2 567.0h0M599.5 596.9h0M599.8 557.9h0M600.0 539.0h0M600.3 619.5h0M600.6 550.0h0M600.8 591.6h0M601.1 615.5h0M601.4 548.3h0M601.6 528.5h0M601.9 569.1h0M602.2 597.5h0M602.5 566.1h0M602.7 597.9h0M603.0 527.4h0M603.3 559.5h0M603.5 566.9h0M603.8 594.7h0M604.1 592.1h0M604.3 556.6h0M604.6 595.9h0M604.9 527.4h0M605.1 545.5h0M605.4 579.1h0M605.7 549.3h0M606.0 563.8h0M606.2 552.1h0M606.5 586.3h0M606.8 520.8h0M607.0 582.9h0M607.3 566.3h0M607.6 600.3h0M607.8 610.2h0M608.1 564.9h0M608.4 527.3h0M608.6 557.1h0M608.9 528.4h0M609.2 575.8h0M609.4 592.8h0M609.7 541.4h0M610.0 544.8h0M610.3 546.7h0M610.5 549.1h0M610.8 582.1h0M611.1 608.3h0M611.3 553.9h0M611.6 627.7h0M611.9 616.0h0M612.1 566.8h0M612.4 611.1h0M612.7 574.9h0M612.9 528.8h0M613.2 601.3h0M613.5 541.1h0M613.7 575.3h0M614.0 591.4h0M614.3 572.3h0M614.6 587.8h0M614.8 589.5h0M615.1 595.8h0M615.4 609.4h0M615.6 577.3h0M615.9 573.2h0M616.2 592.1h0M616.4 594.6h0M616.7 570.8h0M617.0 534.4h0M617.2 619.5h0M617.5 589.7h0M617.8 603.1h0M618.0 614.1h0M618.3 583.5h0M618.6 587.9h0M618.9 585.2h0M619.1 534.2h0M619.4 544.9h0M619.7 531.6h0M619.9 607.1h0M620.2 581.0h0M620.5 584.0h0M620.7 593.0h0M621.0 553.1h0M621.3 542.2h0M621.5 554.8h0M621.8 568.7h0M622.1 574.7h0M622.4 576.0h0M622.6 509.5h0M622.9 592.6h0M623.2 581.9h0M623.4 620.6h0M623.7 558.6h0M624.0 643.9h0M624.2 578.2h0M624.5 561.3h0M624.8 597.3h0M625.0 539.5h0M625.3 569.7h0M625.6 566.1h0M625.8 578.9h0M626.1 605.0h0M626.4 565.4h0M626.7 560.1h0M626.9 543.7h0M627.2 615.1h0M627.5 582.8h0M627.7 558.9h0M628.0 529.0h0M628.3 535.4h0M628.5 580.6h0M628.8 558.6h0M629.1 582.1h0M629.3 588.7h0M629.6 568.8h0M629.9 581.0h0M630.1 603.9h0M630.4 541.7h0M630.7 577.2h0M631.0 606.7h0M631.2 536.8h0M631.5 563.3h0M631.8 602.2h0M632.0 619.1h0M632.3 560.9h0M632.6 582.6h0M632.8 582.4h0M633.1 549.0h0M633.4 572.2h0M633.6 584.7h0M633.9 540.1h0M634.2 578.5h0M634.4 553.1h0M634.7 588.0h0M635.0 577.9h0M635.3 630.1h0M635.5 544.9h0M635.8 562.2h0M636.1 608.8h0M636.3 548.7h0M636.6 549.5h0M636.9 600.0h0M637.1 602.9h0M637.4 563.7h0M637.7 547.2h0M637.9 568.9h0M638.2 583.0h0M638.5 574.9h0M638.8 583.9h0M639.0 517.2h0M639.3 574.5h0M639.6 590.8h0M639.8 540.7h0M640.1 547.9h0M640.4 558.8h0M640.6 553.9h0M640.9 604.1h0M641.2 577.0h0M641.4 557.2h0M641.7 570.4h0M642.0 519.4h0M642.2 579.8h0M642.5 590.6h0M642.8 537.0h0M643.1 614.8h0M643.3 531.4h0M643.6 603.0h0M643.9 551.4h0M644.1 572.0h0M644.4 531.0h0M644.7 542.3h0M644.9 555.1h0M645.2 586.0h0M645.5 534.7h0M645.7 535.3h0M646.0 564.5h0M646.3 558.4h0M646.5 540.5h0M646.8 557.2h0M647.1 587.9h0M647.4 533.1h0M647.6 590.3h0M647.9 553.6h0M648.2 565.9h0M648.4 543.5h0M648.7 552.2h0M649.0 619.0h0M649.2 587.7h0M649.5 569.8h0M649.8 581.6h0M650.0 614.7h0M650.3 573.7h0M650.6 563.0h0M650.8 625.3h0M651.1 557.3h0M651.4 567.5h0M651.7 537.9h0M651.9 550.2h0M652.2 566.1h0M652.5 564.3h0M652.7 621.8h0M653.0 590.5h0M653.3 559.7h0M653.5 560.7h0M653.8 554.5h0M654.1 612.4h0M654.3 613.1h0M654.6 575.7h0M654.9 556.8h0M655.1 575.7h0M655.4 551.8h0M655.7 528.5h0M656.0 593.1h0M656.2 592.4h0M656.5 587.9h0M656.8 584.3h0M657.0 616.3h0M657.3 594.2h0M657.6 573.5h0M657.8 576.2h0M658.1 559.0h0M658.4 558.6h0M658.6 569.1h0M658.9 546.9h0M659.2 531.5h0M659.5 569.6h0M659.7 568.4h0M660.0 585.4h0M660.3 557.0h0M660.5 590.7h0M660.8 594.7h0M661.1 549.0h0M661.3 601.0h0M661.6 561.1h0M661.9 556.3h0M662.1 586.9h0M662.4 587.4h0M662.7 588.6h0M662.9 579.0h0M663.2 553.7h0M663.5 594.9h0M663.8 546.5h0M664.0 532.5h0M664.3 563.3h0M664.6 584.8h0M664.8 607.1h0M665.1 565.2h0M665.4 594.4h0M665.6 572.3h0M665.9 598.6h0M666.2 576.4h0M666.4 589.3h0M666.7 580.0h0M667.0 585.1h0M667.2 583.8h0M667.5 579.5h0M667.8 602.0h0M668.1 567.7h0M668.3 582.0h0M668.6 571.1h0M668.9 560.6h0M669.1 581.2h0M669.4 604.5h0M669.7 550.6h0M669.9 563.6h0M670.2 573.6h0M670.5 534.3h0M670.7 598.7h0M671.0 533.5h0M671.3 544.3h0M671.5 579.5h0M671.8 588.2h0M672.1 552.5h0M672.4 589.1h0M672.6 566.9h0M672.9 582.0h0M673.2 533.6h0M673.4 602.1h0M673.7 598.5h0M674.0 546.9h0M674.2 573.7h0M674.5 560.2h0M674.8 543.0h0M675.0 543.8h0M675.3 607.0h0M675.6 578.6h0M675.9 586.8h0M676.1 562.8h0M676.4 607.9h0M676.7 603.7h0M676.9 603.4h0M677.2 540.1h0M677.5 559.7h0M677.7 601.7h0M678.0 560.8h0M678.3 586.5h0M678.5 545.3h0M678.8 539.3h0M679.1 581.7h0M679.3 553.6h0M679.6 582.4h0M679.9 614.1h0M680.2 597.6h0M680.4 561.7h0M680.7 552.5h0M681.0 544.2h0M681.2 617.8h0M681.5 566.3h0M681.8 585.1h0M682.0 578.1h0M682.3 572.7h0M682.6 536.0h0M682.8 593.8h0M683.1 552.9h0M683.4 568.0h0M683.6 515.2h0M683.9 568.3h0M684.2 580.8h0M684.5 606.1h0M684.7 586.6h0M685.0 571.3h0M685.3 559.8h0M685.5 604.2h0M685.8 519.6h0M686.1 600.7h0M686.3 554.5h0M686.6 578.9h0M686.9 578.8h0M687.1 586.9h0M687.4 562.3h0M687.7 564.4h0M687.9 566.7h0M688.2 529.3h0M688.5 545.3h0M688.8 562.1h0M689.0 584.3h0M689.3 614.3h0M689.6 583.4h0M689.8 588.9h0M690.1 563.9h0M690.4 597.1h0M690.6 593.9h0M690.9 575.3h0M691.2 565.6h0M691.4 570.2h0M691.7 617.9h0M692.0 571.0h0M692.3 542.9h0M692.5 568.8h0M692.8 628.8h0M693.1 529.2h0M693.3 574.0h0M693.6 585.1h0M693.9 541.1h0M694.1 555.3h0M694.4 557.9h0M694.7 582.2h0M694.9 560.2h0M695.2 619.9h0M695.5 571.6h0M695.7 615.3h0M696.0 568.9h0M696.3 575.0h0M696.6 578.5h0M696.8 545.2h0M697.1 587.3h0M697.4 608.1h0M697.6 602.9h0M697.9 584.2h0M698.2 588.1h0M698.4 586.8h0M698.7 594.2h0M699.0 537.8h0M699.2 554.3h0M699.5 529.9h0M699.8 544.6h0M700.0 563.6h0M700.3 570.0h0M700.6 586.8h0M700.9 590.3h0M701.1 549.6h0M701.4 582.4h0M701.7 586.6h0M701.9 566.7h0M702.2 584.0h0M702.5 606.2h0M702.7 530.6h0M703.0 545.4h0M703.3 554.4h0M703.5 580.9h0M703.8 543.5h0M704.1 628.3h0M704.3 576.3h0M704.6 573.3h0M704.9 601.1h0M705.2 617.8h0M705.4 540.5h0M705.7 589.7h0M706.0 600.9h0M706.2 613.7h0M706.5 530.8h0M706.8 577.1h0M707.0 578.9h0M707.3 524.6h0M707.6 580.0h0M707.8 605.4h0M708.1 568.6h0M708.4 579.6h0M708.6 585.7h0M708.9 553.4h0M709.2 553.9h0M709.5 589.5h0M709.7 581.7h0M710.0 564.5h0M710.3 608.0h0M710.5 528.6h0M710.8 579.2h0M711.1 587.1h0M711.3 543.6h0M711.6 537.8h0M711.9 599.7h0M712.1 594.8h0M712.4 614.1h0M712.7 541.3h0M713.0 556.8h0M713.2 586.9h0M713.5 571.1h0M713.8 591.8h0M714.0 576.1h0M714.3 532.8h0M714.6 560.0h0M714.8 562.2h0M715.1 585.7h0M715.4 585.1h0M715.6 617.4h0M715.9 603.5h0M716.2 589.1h0M716.4 595.7h0M716.7 562.4h0M717.0 608.1h0M717.3 590.1h0M717.5 550.1h0M717.8 600.6h0M718.1 530.8h0M718.3 598.2h0M718.6 574.5h0M718.9 587.3h0M719.1 579.6h0M719.4 591.1h0M719.7 561.4h0M719.9 571.1h0M720.2 576.9h0M720.5 582.6h0M720.7 567.0h0M721.0 602.4h0M721.3 555.3h0M721.6 527.5h0M721.8 606.9h0M722.1 574.2h0M722.4 616.7h0M722.6 603.9h0M722.9 614.3h0M723.2 608.9h0M723.4 558.5h0M723.7 578.4h0M724.0 572.8h0M724.2 540.4h0M724.5 574.8h0M724.8 591.2h0M725.0 596.5h0M725.3 567.8h0M725.6 545.5h0M725.9 585.1h0M726.1 593.4h0M726.4 594.3h0M726.7 624.4h0M726.9 543.2h0M727.2 589.4h0M727.5 539.7h0M727.7 588.9h0M728.0 572.3h0M728.3 610.1h0M728.5 576.5h0M728.8 549.4h0M729.1 596.4h0M729.4 538.2h0M729.6 589.9h0M729.9 554.8h0M730.2 548.9h0M730.4 550.9h0M730.7 594.0h0M731.0 545.1h0M731.2 582.8h0M731.5 629.8h0M731.8 601.4h0M732.0 557.4h0M732.3 580.3h0M732.6 538.5h0M732.8 598.5h0M733.1 576.9h0M733.4 593.2h0M733.7 554.8h0M733.9 530.6h0M734.2 576.4h0M734.5 594.7h0M734.7 548.0h0M735.0 578.3h0M735.3 577.3h0M735.5 606.5h0M735.8 593.7h0M736.1 573.3h0M736.3 576.6h0M736.6 550.1h0M736.9 592.5h0M737.1 538.5h0M737.4 575.8h0M737.7 599.9h0M738.0 566.2h0M738.2 541.6h0M738.5 588.7h0M738.8 547.5h0M739.0 582.8h0M739.3 568.6h0M739.6 574.0h0M739.8 586.1h0M740.1 536.2h0M740.4 577.6h0M740.6 541.1h0M740.9 573.0h0M741.2 574.6h0M741.4 589.9h0M741.7 617.7h0M742.0 587.2h0M742.3 601.9h0M742.5 603.0h0M742.8 617.3h0M743.1 597.4h0M743.3 561.7h0M743.6 553.5h0M743.9 585.8h0M744.1 578.9h0M744.4 594.3h0M744.7 556.1h0M744.9 574.8h0M745.2 592.4h0M745.5 601.3h0M745.8 532.1h0M746.0 588.6h0M746.3 595.3h0M746.6 582.1h0M746.8 571.4h0M747.1 524.5h0M747.4 607.8h0M747.6 590.9h0M747.9 545.9h0M748.2 548.2h0M748.4 554.2h0M748.7 595.8h0M749.0 562.5h0M749.2 558.7h0M749.5 607.8h0M749.8 584.3h0M750.1 629.9h0M750.3 561.5h0M750.6 575.9h0M750.9 620.6h0M751.1 617.5h0M751.4 532.8h0M751.7 613.1h0M751.9 538.1h0M752.2 510.3h0M752.5 629.2h0M752.7 552.7h0M753.0 599.0h0M753.3 565.3h0M753.5 608.7h0M753.8 586.5h0M754.1 579.5h0M754.4 546.9h0M754.6 605.9h0M754.9 555.4h0M755.2 568.7h0M755.4 539.5h0M755.7 570.0h0M756.0 630.1h0M756.2 593.2h0M756.5 543.0h0M756.8 582.0h0M757.0 598.0h0M757.3 534.2h0M757.6 569.6h0M757.8 587.2h0M758.1 557.5h0M758.4 531.1h0M758.7 578.2h0M758.9 578.2h0M759.2 521.9h0M759.5 600.5h0M759.7 603.4h0M760.0 610.3h0M760.3 592.9h0M760.5 585.1h0M760.8 579.4h0M761.1 601.7h0M761.3 585.2h0M761.6 580.2h0M761.9 608.2h0M762.2 546.1h0M762.4 577.1h0M762.7 569.7h0M763.0 611.0h0M763.2 550.0h0M763.5 548.7h0M763.8 591.4h0M764.0 586.4h0M764.3 569.8h0M764.6 583.2h0M764.8 534.8h0M765.1 602.2h0M765.4 611.6h0M765.6 575.9h0M765.9 565.6h0M766.2 587.3h0M766.5 597.2h0M766.7 601.4h0M767.0 547.2h0M767.3 620.2h0M767.5 531.2h0M767.8 570.9h0M768.1 595.5h0M768.3 603.8h0M768.6 566.4h0M768.9 606.4h0M769.1 545.8h0M769.4 555.5h0M769.7 586.9h0M769.9 531.6h0M770.2 599.9h0M770.5 638.4h0M770.8 541.2h0M771.0 584.8h0M771.3 600.4h0M771.6 587.3h0M771.8 575.0h0M772.1 590.7h0M772.4 617.5h0M772.6 525.2h0M772.9 610.0h0M773.2 569.0h0M773.4 568.9h0M773.7 555.1h0M774.0 579.4h0M774.2 585.0h0M774.5 556.0h0M774.8 603.5h0M775.1 630.8h0M775.3 543.8h0M775.6 572.8h0M775.9 567.9h0M776.1 575.0h0M776.4 612.3h0M776.7 585.9h0M776.9 549.2h0M777.2 562.1h0M777.5 555.5h0M777.7 554.7h0M778.0 595.1h0M778.3 518.9h0M778.5 599.0h0M778.8 539.1h0M779.1 555.8h0M779.4 543.8h0M779.6 576.2h0M779.9 570.2h0M780.2 557.0h0M780.4 600.3h0M780.7 548.5h0M781.0 566.1h0M781.2 522.1h0M781.5 537.6h0M781.8 585.8h0M782.0 571.5h0M782.3 612.3h0M782.6 613.4h0M782.9 595.9h0M783.1 597.2h0M783.4 554.0h0M783.7 589.8h0M783.9 588.8h0M784.2 560.0h0M784.5 557.7h0M784.7 576.8h0M785.0 549.4h0M785.3 588.5h0M785.5 595.4h0M785.8 536.9h0M786.1 582.7h0M786.3 577.3h0M786.6 509.6h0M786.9 593.8h0M787.2 548.1h0M787.4 561.7h0M787.7 550.2h0M788.0 576.2h0M788.2 625.4h0M788.5 570.9h0M788.8 586.7h0M789.0 596.6h0M789.3 556.9h0M789.6 545.7h0M789.8 608.1h0M790.1 574.9h0M790.4 536.6h0M790.6 591.2h0M790.9 563.3h0M791.2 574.7h0M791.5 625.7h0M791.7 592.5h0M792.0 536.6h0M792.3 583.0h0M792.5 589.5h0M792.8 530.6h0M793.1 610.9h0M793.3 548.7h0M793.6 576.2h0M793.9 595.3h0M794.1 556.1h0M794.4 627.8h0M794.7 549.9h0M794.9 567.5h0M795.2 576.8h0M795.5 619.0h0M795.8 555.4h0M796.0 619.7h0M796.3 578.6h0M796.6 565.6h0M796.8 565.3h0M797.1 561.1h0M797.4 588.5h0M797.6 587.5h0M797.9 574.7h0M798.2 588.6h0M798.4 563.1h0M798.7 577.2h0M799.0 600.6h0M799.3 525.3h0M799.5 552.1h0M799.8 524.0h0M800.1 580.2h0M800.3 572.6h0M800.6 618.6h0M800.9 613.6h0M801.1 561.2h0M801.4 578.0h0M801.7 557.8h0M801.9 535.7h0M802.2 623.1h0M802.5 534.0h0M802.7 566.9h0M803.0 616.7h0M803.3 575.5h0M803.6 594.8h0M803.8 562.8h0M804.1 590.2h0M804.4 600.3h0M804.6 563.2h0M804.9 564.2h0M805.2 552.1h0M805.4 543.2h0M805.7 590.0h0M806.0 553.7h0M806.2 582.1h0M806.5 569.1h0M806.8 616.5h0M807.0 589.3h0M807.3 599.8h0M807.6 531.6h0M807.9 606.5h0M808.1 523.1h0M808.4 532.2h0M808.7 559.9h0M808.9 584.2h0M809.2 618.1h0M809.5 570.2h0M809.7 621.7h0M810.0 623.0h0M810.3 545.1h0M810.5 552.2h0M810.8 516.8h0M811.1 601.1h0M811.3 556.0h0M811.6 608.9h0M811.9 601.3h0M812.2 554.8h0M812.4 567.0h0M812.7 592.6h0M813.0 586.9h0M813.2 549.2h0M813.5 541.1h0M813.8 573.7h0M814.0 584.8h0M814.3 562.4h0M814.6 607.5h0M814.8 571.9h0M815.1 608.4h0M815.4 579.8h0M815.7 632.9h0M815.9 596.5h0M816.2 553.9h0M816.5 575.4h0M816.7 573.0h0M817.0 543.6h0M817.3 534.8h0M817.5 616.6h0M817.8 546.2h0M818.1 594.0h0M818.3 531.6h0M818.6 589.0h0M818.9 536.0h0M819.1 584.4h0M819.4 572.5h0M819.7 605.8h0M820.0 565.9h0M820.2 575.6h0M820.5 546.0h0M820.8 567.9h0M821.0 547.7h0M821.3 561.7h0M821.6 540.9h0M821.8 567.2h0M822.1 573.9h0M822.4 555.6h0M822.6 536.0h0M822.9 536.4h0M823.2 613.9h0M823.4 589.3h0M823.7 591.2h0M824.0 580.2h0M824.3 583.8h0M824.5 555.1h0M824.8 558.0h0M825.1 541.7h0M825.3 544.3h0M825.6 579.4h0M825.9 560.4h0M826.1 545.9h0M826.4 530.9h0M826.7 547.9h0M826.9 557.9h0M827.2 627.8h0M827.5 539.6h0M827.7 598.8h0M828.0 529.1h0M828.3 532.6h0M828.6 540.4h0M828.8 562.0h0M829.1 589.4h0M829.4 540.2h0M829.6 568.9h0M829.9 616.8h0M830.2 553.9h0M830.4 633.4h0M830.7 596.9h0M831.0 550.4h0M831.2 532.4h0M831.5 618.6h0M831.8 570.7h0M832.1 573.0h0M832.3 562.7h0M832.6 588.7h0M832.9 581.4h0M833.1 566.7h0M833.4 590.9h0M833.7 577.9h0M833.9 575.9h0M834.2 604.1h0M834.5 569.2h0M834.7 606.7h0M835.0 555.8h0M835.3 557.4h0M835.5 591.0h0M835.8 546.3h0M836.1 596.4h0M836.4 525.2h0M836.6 608.3h0M836.9 561.5h0M837.2 602.4h0M837.4 645.3h0M837.7 548.1h0M838.0 592.9h0M838.2 527.4h0M838.5 606.8h0M838.8 602.0h0M839.0 563.5h0M839.3 574.5h0M839.6 597.8h0M839.8 545.1h0M840.1 559.2h0M840.4 569.3h0M840.7 542.3h0M840.9 588.0h0M841.2 562.0h0M841.5 524.9h0M841.7 619.9h0M842.0 550.5h0M842.3 558.1h0M842.5 594.7h0M842.8 549.7h0M843.1 558.2h0M843.3 611.9h0M843.6 556.7h0M843.9 590.1h0M844.1 569.3h0M844.4 571.9h0M844.7 578.1h0M845.0 572.7h0M845.2 569.4h0M845.5 592.9h0M845.8 553.5h0M846.0 546.1h0M846.3 614.5h0M846.6 571.3h0M846.8 568.6h0M847.1 590.8h0M847.4 588.7h0M847.6 624.5h0M847.9 587.9h0M848.2 540.1h0M848.5 539.1h0M848.7 553.5h0M849.0 579.7h0M849.3 543.9h0M849.5 529.8h0M849.8 588.4h0M850.1 539.5h0M850.3 595.4h0M850.6 538.2h0M850.9 573.3h0M851.1 553.5h0M851.4 553.7h0M851.7 564.0h0M851.9 579.6h0M852.2 574.2h0M852.5 594.2h0M852.8 583.5h0M853.0 602.0h0M853.3 521.6h0M853.6 580.3h0M853.8 545.2h0M854.1 550.2h0M854.4 560.9h0M854.6 591.7h0M854.9 589.8h0M855.2 561.1h0M855.4 551.9h0M855.7 526.9h0M856.0 602.4h0M856.2 573.2h0M856.5 563.9h0M856.8 611.1h0M857.1 581.9h0M857.3 581.5h0M857.6 576.2h0M857.9 614.9h0M858.1 589.7h0M858.4 598.4h0M858.7 567.3h0M858.9 550.8h0M859.2 611.5h0M859.5 596.6h0M859.7 537.2h0M860.0 595.4h0M860.3 580.8h0M860.5 576.1h0M860.8 590.0h0M861.1 570.5h0M861.4 640.6h0M861.6 609.2h0M861.9 595.6h0M862.2 548.2h0M862.4 591.1h0M862.7 531.5h0M863.0 572.0h0M863.2 584.2h0M863.5 526.9h0M863.8 548.1h0M864.0 531.2h0M864.3 571.4h0M864.6 548.6h0M864.8 588.8h0M865.1 546.4h0M865.4 608.6h0M865.7 550.9h0M865.9 618.8h0M866.2 599.2h0M866.5 586.9h0M866.7 600.7h0M867.0 576.0h0M867.3 547.3h0M867.5 556.4h0M867.8 589.3h0M868.1 552.4h0M868.3 565.5h0M868.6 569.4h0M868.9 614.8h0M869.2 554.8h0M869.4 576.2h0M869.7 598.4h0M870.0 577.2h0M870.2 572.6h0M870.5 606.5h0M870.8 604.9h0M871.0 570.3h0M871.3 565.0h0M871.6 583.6h0M871.8 553.1h0M872.1 552.8h0M872.4 522.8h0M872.6 532.1h0M872.9 534.1h0M873.2 587.5h0M873.5 555.7h0M873.7 598.7h0M874.0 583.1h0M874.3 607.8h0M874.5 614.2h0M874.8 529.2h0M875.1 560.9h0M875.3 581.6h0M875.6 617.8h0M875.9 529.8h0M876.1 609.7h0M876.4 598.0h0M876.7 624.1h0M876.9 584.2h0M877.2 569.7h0M877.5 599.5h0M877.8 529.8h0M878.0 542.5h0M878.3 547.7h0M878.6 564.8h0M878.8 538.4h0M879.1 597.6h0M879.4 582.0h0M879.6 551.6h0M879.9 547.6h0M880.2 584.0h0M880.4 570.2h0M880.7 568.7h0M881.0 587.9h0M881.2 592.2h0M881.5 521.4h0M881.8 572.4h0M882.1 579.4h0M882.3 600.8h0M882.6 571.4h0M882.9 590.0h0M883.1 579.8h0M883.4 524.9h0M883.7 566.2h0M883.9 537.1h0M884.2 593.2h0M884.5 549.5h0M884.7 601.1h0M885.0 519.5h0M885.3 626.9h0M885.6 592.2h0M885.8 586.4h0M886.1 546.3h0M886.4 579.8h0M886.6 571.7h0M886.9 587.5h0M887.2 583.5h0M887.4 565.6h0M887.7 588.4h0M888.0 566.9h0M888.2 557.2h0M888.5 561.2h0M888.8 588.6h0M889.0 535.7h0M889.3 558.1h0M889.6 573.4h0M889.9 618.0h0M890.1 609.9h0M890.4 590.9h0M890.7 582.7h0M890.9 605.4h0M891.2 585.1h0M891.5 566.5h0M891.7 557.6h0M892.0 558.4h0M892.3 580.9h0M892.5 557.8h0M892.8 610.2h0M893.1 556.5h0M893.3 568.6h0M893.6 581.4h0M893.9 572.9h0M894.2 577.5h0M894.4 557.1h0M894.7 529.8h0M895.0 580.4h0M895.2 569.1h0M895.5 557.9h0M895.8 533.7h0M896.0 594.9h0M896.3 575.7h0M896.6 584.8h0M896.8 585.6h0M897.1 590.7h0M897.4 535.8h0M897.6 603.8h0M897.9 608.1h0M898.2 582.7h0M898.5 576.5h0M898.7 572.5h0M899.0 544.8h0M899.3 565.7h0M899.5 578.6h0M899.8 632.0h0M900.1 597.6h0M900.3 584.3h0M900.6 584.1h0M900.9 559.7h0M901.1 575.7h0M901.4 596.8h0M901.7 612.8h0M902.0 553.6h0M902.2 589.8h0M902.5 591.1h0M902.8 602.7h0M903.0 609.1h0M903.3 570.4h0M903.6 552.8h0M903.8 560.9h0M904.1 532.7h0M904.4 596.5h0M904.6 560.4h0M904.9 564.1h0M905.2 577.1h0M905.4 581.6h0M905.7 604.2h0M906.0 581.3h0M906.3 576.5h0M906.5 572.8h0M906.8 541.7h0M907.1 545.4h0M907.3 578.8h0M907.6 569.7h0M907.9 551.6h0M908.1 577.8h0M908.4 572.4h0M908.7 575.4h0M908.9 555.1h0M909.2 548.7h0M909.5 578.6h0M909.7 527.3h0M910.0 556.2h0M910.3 543.9h0M910.6 624.3h0M910.8 562.0h0M911.1 548.5h0M911.4 619.7h0M911.6 581.1h0M911.9 573.6h0M912.2 546.6h0M912.4 585.8h0M912.7 545.3h0M913.0 534.9h0M913.2 525.1h0M913.5 573.7h0M913.8 529.2h0M914.0 592.3h0M914.3 579.4h0M914.6 584.3h0M914.9 579.6h0M915.1 591.6h0M915.4 590.8h0M915.7 548.3h0M915.9 528.2h0M916.2 601.7h0M916.5 543.1h0M916.7 545.7h0M917.0 586.5h0M917.3 566.1h0M917.5 604.0h0M917.8 537.3h0M918.1 585.7h0M918.4 607.8h0M918.6 592.8h0M918.9 572.9h0M919.2 594.6h0M919.4 583.8h0M919.7 581.4h0M920.0 549.4h0M920.2 598.3h0M920.5 579.8h0M920.8 544.6h0M921.0 532.3h0M921.3 570.3h0M921.6 566.7h0M921.8 616.5h0M922.1 565.1h0M922.4 593.5h0M922.7 510.6h0M922.9 587.3h0M923.2 582.6h0M923.5 588.1h0M923.7 615.6h0M924.0 609.0h0M924.3 553.8h0M924.5 584.0h0M924.8 567.8h0M925.1 512.3h0M925.3 617.4h0M925.6 551.5h0M925.9 575.7h0M926.1 594.0h0M926.4 547.5h0M926.7 527.6h0M927.0 581.0h0M927.2 562.5h0M927.5 546.2h0M927.8 563.0h0M928.0 591.8h0M928.3 588.6h0M928.6 568.0h0M928.8 524.9h0M929.1 529.1h0M929.4 578.5h0M929.6 583.8h0M929.9 569.5h0M930.2 614.4h0M930.4 586.5h0M930.7 549.4h0M931.0 574.2h0M931.3 537.5h0M931.5 566.1h0M931.8 562.7h0M932.1 525.1h0M932.3 579.2h0M932.6 557.4h0M932.9 562.9h0M933.1 592.6h0M933.4 596.7h0M933.7 541.7h0M933.9 575.2h0M934.2 583.7h0M934.5 547.1h0M934.7 559.6h0M935.0 558.8h0M935.3 564.3h0M935.6 590.7h0M935.8 595.3h0M936.1 571.7h0M936.4 585.7h0M936.6 593.9h0M936.9 553.3h0M937.2 577.4h0M937.4 561.9h0M937.7 544.0h0M938.0 542.4h0M938.2 544.2h0M938.5 586.2h0M938.8 599.9h0M939.1 563.8h0M939.3 645.5h0M939.6 626.1h0M939.9 595.8h0M940.1 656.5h0M940.4 586.7h0M940.7 556.3h0M940.9 556.4h0M941.2 543.5h0M941.5 577.6h0M941.7 573.5h0M942.0 540.5h0M942.3 569.9h0M942.5 562.4h0M942.8 559.4h0M943.1 560.9h0M943.4 552.9h0M943.6 554.0h0M943.9 560.3h0M944.2 547.5h0M944.4 559.1h0M944.7 631.3h0M945.0 592.7h0M945.2 600.9h0M945.5 603.4h0M945.8 569.6h0M946.0 538.2h0M946.3 602.3h0M946.6 614.1h0M946.8 540.9h0M947.1 599.1h0M947.4 592.9h0M947.7 545.4h0M947.9 611.0h0M948.2 525.6h0M948.5 571.9h0M948.7 583.5h0M949.0 564.6h0M949.3 560.4h0M949.5 583.9h0M949.8 571.5h0M950.1 575.9h0M950.3 540.5h0M950.6 552.5h0M950.9 613.2h0M951.1 564.2h0M951.4 579.6h0M951.7 590.3h0M952.0 563.3h0M952.2 557.5h0M952.5 559.8h0M952.8 578.2h0M953.0 542.9h0M953.3 585.0h0M953.6 583.9h0M953.8 551.5h0M954.1 572.8h0M954.4 537.0h0M954.6 579.7h0M954.9 560.8h0M955.2 637.5h0M955.5 557.2h0M955.7 565.8h0M956.0 606.2h0M956.3 564.3h0M956.5 556.7h0M956.8 651.2h0M957.1 578.7h0M957.3 590.0h0M957.6 571.9h0M957.9 537.8h0M958.1 555.1h0M958.4 566.0h0M958.7 532.2h0M958.9 604.0h0M959.2 565.9h0M959.5 577.8h0M959.8 565.3h0M960.0 570.7h0M960.3 538.5h0M960.6 587.8h0M960.8 541.3h0M961.1 577.8h0M961.4 554.3h0M961.6 582.0h0M961.9 560.0h0M962.2 602.5h0M962.4 564.7h0M962.7 602.8h0M963.0 577.5h0M963.2 571.8h0M963.5 560.7h0M963.8 589.4h0M964.1 589.5h0M964.3 618.2h0M964.6 522.8h0M964.9 516.5h0M965.1 575.8h0M965.4 528.5h0M965.7 530.9h0M965.9 565.2h0M966.2 545.9h0M966.5 570.6h0M966.7 606.8h0M967.0 577.5h0M967.3 572.8h0M967.5 566.9h0M967.8 560.4h0M968.1 573.5h0M968.4 549.9h0M968.6 572.3h0M968.9 522.6h0M969.2 549.6h0M969.4 568.0h0M969.7 615.1h0M970.0 577.4h0M970.2 572.5h0M970.5 537.4h0M970.8 523.5h0M971.0 555.0h0M971.3 620.2h0M971.6 602.9h0M971.9 525.5h0M972.1 572.2h0M972.4 543.3h0M972.7 597.7h0M972.9 614.9h0M973.2 557.1h0M973.5 571.2h0M973.7 534.2h0M974.0 526.7h0M974.3 547.2h0M974.5 586.5h0M974.8 540.8h0M975.1 545.3h0M975.3 578.4h0M975.6 533.9h0M975.9 604.9h0M976.2 596.0h0M976.4 586.5h0M976.7 548.1h0M977.0 563.7h0M977.2 550.1h0M977.5 541.1h0M977.8 555.1h0M978.0 606.6h0M978.3 581.7h0M978.6 583.0h0M978.8 576.3h0M979.1 571.8h0M979.4 551.5h0M979.6 610.7h0M979.9 587.4h0M980.2 555.6h0M980.5 594.1h0M980.7 552.5h0M981.0 599.8h0M981.3 569.1h0M981.5 573.1h0M981.8 596.9h0M982.1 534.9h0M982.3 586.4h0M982.6 592.5h0M982.9 586.2h0M983.1 592.9h0M983.4 544.7h0M983.7 573.0h0M983.9 588.8h0M984.2 597.7h0M984.5 538.5h0M984.8 623.4h0M985.0 575.8h0M985.3 610.6h0M985.6 514.4h0M985.8 605.3h0M986.1 550.8h0M986.4 594.3h0M986.6 572.8h0M986.9 576.4h0M987.2 565.5h0M987.4 587.0h0M987.7 553.8h0M988.0 559.6h0M988.2 611.2h0M988.5 545.2h0M988.8 558.9h0M989.1 559.8h0M989.3 608.0h0M989.6 578.0h0M989.9 551.1h0M990.1 597.2h0M990.4 603.5h0M990.7 591.6h0M990.9 593.5h0M991.2 588.1h0M991.5 589.6h0M991.7 622.9h0M992.0 555.4h0M992.3 594.5h0M992.6 571.6h0M992.8 565.5h0M993.1 571.4h0M993.4 581.1h0M993.6 537.3h0M993.9 521.8h0M994.2 537.8h0M994.4 569.0h0M994.7 595.9h0M995.0 597.1h0M995.2 569.0h0M995.5 559.3h0M995.8 529.4h0M996.0 576.9h0M996.3 568.2h0M996.6 632.4h0M996.9 559.3h0M997.1 551.2h0M997.4 594.9h0M997.7 583.0h0M997.9 598.3h0M998.2 590.7h0M998.5 591.5h0M998.7 577.1h0M999.0 570.6h0M999.3 612.9h0M999.5 533.8h0M999.8 583.4h0M1000.1 576.1h0M1000.3 541.4h0M1000.6 566.4h0M1000.9 552.4h0M1001.2 545.5h0M1001.4 547.9h0M1001.7 545.6h0M1002.0 573.6h0M1002.2 534.7h0M1002.5 588.7h0M1002.8 567.4h0M1003.0 524.5h0M1003.3 574.0h0M1003.6 548.4h0M1003.8 562.1h0M1004.1 598.1h0M1004.4 617.3h0M1004.6 583.9h0M1004.9 596.8h0M1005.2 569.5h0M1005.5 594.9h0M1005.7 552.3h0M1006.0 530.9h0M1006.3 610.0h0M1006.5 540.4h0M1006.8 587.5h0M1007.1 542.5h0M1007.3 553.6h0M1007.6 529.9h0M1007.9 590.2h0M1008.1 523.0h0M1008.4 564.6h0M1008.7 530.2h0M1009.0 585.3h0M1009.2 581.1h0M1009.5 570.8h0M1009.8 585.3h0M1010.0 533.4h0M1010.3 530.9h0M1010.6 571.3h0M1010.8 593.4h0M1011.1 582.2h0M1011.4 579.9h0M1011.6 538.4h0M1011.9 557.1h0M1012.2 543.8h0M1012.4 532.5h0M1012.7 617.6h0M1013.0 595.0h0M1013.3 528.5h0M1013.5 530.9h0M1013.8 545.2h0M1014.1 573.5h0M1014.3 545.5h0M1014.6 608.8h0M1014.9 576.1h0M1015.1 538.5h0M1015.4 512.0h0M1015.7 544.0h0M1015.9 610.3h0M1016.2 539.7h0M1016.5 536.8h0M1016.7 515.2h0M1017.0 566.5h0M1017.3 561.9h0M1017.6 586.3h0M1017.8 571.2h0M1018.1 555.7h0M1018.4 544.2h0M1018.6 563.9h0M1018.9 587.6h0M1019.2 560.9h0M1019.4 515.9h0M1019.7 560.4h0M1020.0 581.3h0M1020.2 555.8h0M1020.5 591.5h0M1020.8 576.9h0M1021.0 576.8h0M1021.3 564.3h0M1021.6 537.1h0M1021.9 594.7h0M1022.1 545.2h0M1022.4 585.1h0M1022.7 578.5h0M1022.9 563.4h0M1023.2 629.3h0M1023.5 578.9h0M1023.7 602.2h0M1024.0 582.6h0M1024.3 567.6h0M1024.5 536.7h0M1024.8 619.6h0M1025.1 552.1h0M1025.4 565.1h0M1025.6 584.2h0M1025.9 543.3h0M1026.2 584.7h0M1026.4 595.7h0M1026.7 575.2h0M1027.0 576.7h0M1027.2 568.1h0M1027.5 531.8h0M1027.8 595.0h0M1028.0 540.1h0M1028.3 552.8h0M1028.6 567.5h0M1028.8 579.0h0M1029.1 577.3h0M1029.4 549.2h0M1029.7 560.7h0M1029.9 585.0h0M1030.2 574.1h0M1030.5 573.5h0M1030.7 564.3h0M1031.0 577.5h0M1031.3 594.2h0M1031.5 582.9h0M1031.8 605.8h0M1032.1 533.7h0M1032.3 616.2h0M1032.6 527.1h0M1032.9 585.2h0M1033.1 572.5h0M1033.4 547.0h0M1033.7 597.2h0M1034.0 588.3h0M1034.2 580.2h0M1034.5 566.3h0M1034.8 549.0h0M1035.0 551.9h0M1035.3 563.8h0M1035.6 589.3h0M1035.8 581.7h0M1036.1 567.1h0M1036.4 577.3h0M1036.6 579.5h0M1036.9 591.5h0M1037.2 613.7h0M1037.4 590.2h0M1037.7 600.7h0M1038.0 610.8h0M1038.3 591.4h0M1038.5 604.6h0M1038.8 562.4h0M1039.1 597.2h0M1039.3 592.4h0M1039.6 589.8h0M1039.9 577.0h0M1040.1 533.6h0M1040.4 570.2h0M1040.7 543.2h0M1040.9 564.5h0M1041.2 536.2h0M1041.5 568.6h0M1041.8 555.9h0M1042.0 601.6h0M1042.3 553.9h0M1042.6 582.5h0M1042.8 585.7h0M1043.1 527.3h0M1043.4 552.6h0M1043.6 527.8h0M1043.9 534.6h0M1044.2 555.6h0M1044.4 575.2h0M1044.7 582.1h0M1045.0 629.1h0M1045.2 584.8h0M1045.5 569.6h0M1045.8 596.5h0M1046.1 543.4h0M1046.3 596.5h0M1046.6 547.4h0M1046.9 531.7h0M1047.1 541.3h0M1047.4 617.7h0M1047.7 542.0h0M1047.9 555.5h0M1048.2 577.9h0M1048.5 547.4h0M1048.7 611.2h0M1049.0 566.9h0M1049.3 594.3h0M1049.5 574.1h0M1049.8 599.3h0M1050.1 598.1h0M1050.4 554.0h0M1050.6 532.9h0M1050.9 573.4h0M1051.2 592.4h0M1051.4 558.0h0M1051.7 558.3h0M1052.0 574.1h0M1052.2 606.6h0M1052.5 583.2h0M1052.8 563.8h0M1053.0 663.3h0M1053.3 603.3h0M1053.6 552.1h0M1053.8 610.1h0M1054.1 540.3h0M1054.4 525.8h0M1054.7 585.4h0M1054.9 603.2h0M1055.2 587.4h0M1055.5 541.0h0M1055.7 635.2h0M1056.0 560.0h0M1056.3 590.6h0M1056.5 599.8h0M1056.8 533.5h0M1057.1 576.3h0M1057.3 548.8h0M1057.6 600.3h0M1057.9 527.3h0M1058.2 555.2h0M1058.4 590.0h0M1058.7 529.1h0M1059.0 577.1h0M1059.2 561.7h0M1059.5 535.6h0M1059.8 614.2h0M1060.0 579.0h0M1060.3 607.0h0M1060.6 585.1h0M1060.8 552.4h0M1061.1 602.4h0M1061.4 572.0h0M1061.6 591.4h0M1061.9 547.3h0M1062.2 587.5h0M1062.5 554.7h0M1062.7 530.6h0M1063.0 593.1h0M1063.3 540.2h0M1063.5 576.7h0M1063.8 562.8h0M1064.1 613.9h0M1064.3 638.4h0M1064.6 571.8h0M1064.9 570.3h0M1065.1 595.0h0M1065.4 591.9h0M1065.7 603.7h0M1065.9 599.6h0M1066.2 587.0h0M1066.5 581.2h0M1066.8 557.7h0M1067.0 567.4h0M1067.3 522.7h0M1067.6 595.4h0M1067.8 570.7h0M1068.1 523.8h0M1068.4 604.5h0M1068.6 570.0h0M1068.9 551.9h0M1069.2 600.4h0M1069.4 587.0h0M1069.7 523.4h0M1070.0 561.3h0M1070.2 552.8h0M1070.5 615.8h0M1070.8 554.0h0M1071.1 539.3h0M1071.3 589.1h0M1071.6 626.3h0M1071.9 523.4h0M1072.1 591.7h0M1072.4 567.0h0M1072.7 599.5h0M1072.9 564.4h0M1073.2 547.5h0M1073.5 576.9h0M1073.7 597.4h0M1074.0 528.3h0M1074.3 537.4h0M1074.5 547.0h0M1074.8 576.2h0M1075.1 558.8h0M1075.4 573.3h0M1075.6 617.3h0M1075.9 626.7h0M1076.2 567.4h0M1076.4 609.8h0M1076.7 626.9h0M1077.0 575.9h0M1077.2 581.1h0M1077.5 610.3h0M1077.8 627.4h0M1078.0 616.6h0M1078.3 571.9h0M1078.6 520.3h0M1078.9 528.4h0M1079.1 555.0h0M1079.4 587.0h0M1079.7 571.6h0M1079.9 616.3h0M1080.2 628.8h0M1080.5 601.9h0M1080.7 539.4h0M1081.0 610.2h0M1081.3 563.9h0M1081.5 595.3h0M1081.8 565.5h0M1082.1 581.4h0M1082.3 560.2h0M1082.6 589.9h0M1082.9 574.2h0M1083.2 587.0h0M1083.4 535.4h0M1083.7 574.5h0M1084.0 582.3h0M1084.2 578.5h0M1084.5 593.5h0M1084.8 579.0h0M1085.0 581.7h0M1085.3 572.8h0M1085.6 562.4h0M1085.8 562.1h0M1086.1 613.6h0M1086.4 564.3h0M1086.6 571.6h0M1086.9 559.6h0M1087.2 596.9h0M1087.5 631.9h0M1087.7 530.9h0M1088.0 598.5h0M1088.3 572.2h0M1088.5 605.5h0M1088.8 596.5h0M1089.1 553.3h0M1089.3 539.7h0M1089.6 551.6h0M1089.9 559.3h0M1090.1 564.1h0M1090.4 582.4h0M1090.7 594.7h0M1090.9 567.9h0M1091.2 589.2h0M1091.5 613.3h0M1091.8 557.9h0M1092.0 583.1h0M1092.3 532.8h0M1092.6 559.6h0M1092.8 530.2h0M1093.1 594.9h0M1093.4 540.4h0M1093.6 586.4h0M1093.9 613.1h0M1094.2 616.4h0M1094.4 563.3h0M1094.7 557.3h0M1095.0 588.9h0M1095.3 580.0h0M1095.5 541.2h0M1095.8 588.9h0M1096.1 619.9h0M1096.3 631.9h0M1096.6 567.3h0M1096.9 565.7h0M1097.1 544.0h0M1097.4 528.0h0M1097.7 553.3h0M1097.9 575.0h0M1098.2 582.0h0M1098.5 546.2h0M1098.7 522.4h0M1099.0 550.6h0M1099.3 528.5h0M1099.6 554.4h0M1099.8 548.5h0M1100.1 595.7h0M1100.4 582.3h0M1100.6 560.9h0M1100.9 544.9h0M1101.2 590.0h0M1101.4 603.5h0M1101.7 571.1h0M1102.0 549.0h0M1102.2 590.3h0M1102.5 565.5h0M1102.8 552.9h0M1103.0 611.8h0M1103.3 597.5h0M1103.6 592.1h0M1103.9 560.9h0M1104.1 564.8h0M1104.4 557.6h0M1104.7 573.1h0M1104.9 596.0h0M1105.2 538.8h0M1105.5 582.4h0M1105.7 585.6h0M1106.0 600.2h0M1106.3 557.6h0M1106.5 592.8h0M1106.8 552.3h0M1107.1 586.3h0M1107.3 548.6h0M1107.6 610.3h0M1107.9 558.7h0M1108.2 535.7h0M1108.4 513.0h0M1108.7 589.8h0M1109.0 574.9h0M1109.2 530.3h0M1109.5 578.5h0M1109.8 595.2h0M1110.0 552.4h0M1110.3 584.2h0M1110.6 615.0h0M1110.8 540.0h0M1111.1 576.4h0M1111.4 572.5h0M1111.7 583.1h0M1111.9 583.7h0M1112.2 582.2h0M1112.5 526.6h0M1112.7 599.0h0M1113.0 562.9h0M1113.3 570.0h0M1113.5 533.5h0M1113.8 570.1h0M1114.1 571.8h0M1114.3 579.8h0M1114.6 556.3h0M1114.9 551.5h0M1115.1 555.1h0M1115.4 605.0h0M1115.7 600.6h0M1116.0 586.4h0M1116.2 598.3h0M1116.5 595.7h0M1116.8 551.1h0M1117.0 601.0h0M1117.3 613.0h0M1117.6 562.9h0M1117.8 579.1h0M1118.1 587.4h0M1118.4 613.4h0M1118.6 603.9h0M1118.9 567.5h0M1119.2 583.7h0M1119.4 538.6h0M1119.7 608.0h0M1120.0 559.3h0M1120.3 537.4h0M1120.5 609.3h0M1120.8 589.9h0M1121.1 594.5h0M1121.3 596.8h0M1121.6 549.2h0M1121.9 575.0h0M1122.1 612.0h0M1122.4 627.9h0M1122.7 571.5h0M1122.9 566.2h0M1123.2 600.8h0M1123.5 602.8h0M1123.7 607.7h0M1124.0 595.1h0M1124.3 594.2h0M1124.6 577.4h0M1124.8 586.3h0M1125.1 556.8h0M1125.4 556.0h0M1125.6 558.7h0M1125.9 561.6h0M1126.2 579.1h0M1126.4 602.1h0M1126.7 619.2h0M1127.0 538.4h0M1127.2 629.0h0M1127.5 589.8h0M1127.8 570.0h0M1128.0 565.9h0M1128.3 561.2h0M1128.6 546.6h0M1128.9 586.3h0M1129.1 576.1h0M1129.4 566.5h0M1129.7 651.3h0M1129.9 569.4h0M1130.2 587.2h0M1130.5 582.2h0M1130.7 540.7h0M1131.0 580.0h0M1131.3 598.5h0M1131.5 557.8h0M1131.8 529.5h0M1132.1 583.0h0M1132.4 586.2h0M1132.6 576.5h0M1132.9 584.8h0M1133.2 596.7h0M1133.4 599.7h0M1133.7 571.7h0M1134.0 622.7h0M1134.2 574.2h0M1134.5 587.2h0M1134.8 599.3h0M1135.0 531.6h0M1135.3 549.3h0M1135.6 558.8h0M1135.8 628.0h0M1136.1 593.7h0M1136.4 594.2h0M1136.7 529.7h0M1136.9 621.7h0M1137.2 563.3h0M1137.5 595.5h0M1137.7 563.4h0M1138.0 587.4h0M1138.3 549.7h0M1138.5 542.4h0M1138.8 632.3h0M1139.1 532.3h0M1139.3 570.5h0M1139.6 617.6h0M1139.9 590.4h0M1140.1 528.6h0M1140.4 553.6h0M1140.7 596.3h0M1141.0 575.4h0M1141.2 555.5h0M1141.5 581.9h0M1141.8 547.0h0M1142.0 592.1h0M1142.3 567.5h0M1142.6 570.3h0M1142.8 570.9h0M1143.1 596.0h0M1143.4 608.1h0M1143.6 577.1h0M1143.9 580.9h0M1144.2 607.2h0M1144.4 563.4h0M1144.7 555.5h0M1145.0 619.0h0M1145.3 559.1h0M1145.5 597.9h0M1145.8 560.7h0M1146.1 561.3h0M1146.3 533.6h0M1146.6 636.7h0M1146.9 584.7h0M1147.1 578.1h0M1147.4 576.9h0M1147.7 535.3h0M1147.9 540.0h0M1148.2 598.7h0M1148.5 551.8h0M1148.8 569.4h0M1149.0 557.9h0M1149.3 580.7h0M1149.6 624.9h0M1149.8 524.7h0M1150.1 601.8h0M1150.4 552.9h0M1150.6 603.1h0M1150.9 570.5h0M1151.2 544.0h0M1151.4 574.6h0M1151.7 592.5h0M1152.0 626.0h0M1152.2 550.2h0M1152.5 560.2h0M1152.8 591.4h0M1153.1 574.5h0M1153.3 554.5h0M1153.6 545.9h0M1153.9 555.6h0M1154.1 570.0h0M1154.4 599.1h0M1154.7 599.6h0M1154.9 593.6h0M1155.2 579.2h0M1155.5 535.9h0M1155.7 646.6h0M1156.0 559.5h0M1156.3 558.8h0M1156.5 563.5h0M1156.8 541.2h0M1157.1 631.8h0M1157.4 567.1h0M1157.6 605.8h0M1157.9 621.1h0M1158.2 568.7h0M1158.4 531.8h0M1158.7 583.7h0M1159.0 572.2h0M1159.2 608.2h0M1159.5 584.7h0M1159.8 577.1h0M1160.0 553.7h0M1160.3 584.6h0M1160.6 567.5h0M1160.8 541.0h0M1161.1 602.8h0M1161.4 630.7h0M1161.7 602.6h0M1161.9 557.6h0M1162.2 576.3h0M1162.5 632.8h0M1162.7 588.7h0M260.4 674.1h0"/>
<path stroke="#db4437" d="M113.8 355.8h0M116.6 158.7h0M118.7 260.5h0M118.2 217.2h0M115.4 213.2h0M115.5 166.7h0M116.0 172.5h0M117.5 178.3h0M116.5 182.7h0M118.0 187.0h0M117.0 191.4h0M118.3 195.8h0M117.8 201.6h0M116.2 205.2h0M117.2 207.4h0M115.8 194.3h0M116.8 175.4h0M115.2 185.6h0M118.5 507.2h0M118.8 481.6h0M119.1 504.7h0M119.3 483.4h0M119.6 507.8h0M119.9 506.4h0M120.1 484.7h0M120.4 500.9h0M120.7 504.3h0M121.0 484.1h0M121.2 510.0h0M121.5 509.5h0M121.8 486.1h0M122.0 496.0h0M122.3 497.7h0M122.6 506.7h0M122.8 521.0h0M123.1 500.5h0M123.4 490.8h0M123.6 516.4h0M123.9 498.1h0M124.2 496.6h0M124.4 505.7h0M124.7 511.0h0M125.0 510.0h0M125.3 492.7h0M125.5 499.4h0M125.8 511.8h0M126.1 513.3h0M126.3 514.2h0M126.6 504.7h0M126.9 506.8h0M127.1 508.8h0M127.4 512.6h0M127.7 529.5h0M127.9 517.4h0M128.2 510.1h0M128.5 508.4h0M128.7 503.1h0M129.0 529.1h0M129.3 521.2h0M129.6 513.2h0M129.8 512.6h0M130.1 517.9h0M130.4 504.1h0M130.6 526.1h0M130.9 515.7h0M131.2 525.3h0M131.4 519.9h0M131.7 504.6h0M132.0 509.1h0M132.2 519.4h0M132.5 517.7h0M132.8 521.9h0M133.1 520.1h0M133.3 519.9h0M133.6 507.3h0M133.9 523.6h0M134.1 505.1h0M134.4 506.0h0M134.7 516.7h0M134.9 496.5h0M135.2 535.8h0M135.5 515.0h0M135.7 529.2h0M136.0 535.9h0M136.3 505.6h0M136.5 503.9h0M136.8 519.7h0M137.1 504.8h0M137.4 546.8h0M137.6 538.1h0M137.9 510.0h0M138.2 514.4h0M138.4 535.5h0M138.7 538.9h0M139.0 534.9h0M139.2 540.2h0M139.5 530.1h0M139.8 520.1h0M140.0 527.9h0M140.3 545.5h0M140.6 533.0h0M140.8 513.8h0M141.1 531.9h0M141.4 521.1h0M141.7 538.5h0M141.9 540.6h0M142.2 526.3h0M142.5 528.7h0M142.7 529.3h0M143.0 536.5h0M143.3 522.8h0M143.5 532.6h0M143.8 534.8h0M144.1 530.9h0M144.3 538.1h0M144.6 526.1h0M144.9 525.8h0M145.1 532.3h0M145.4 525.3h0M145.7 530.4h0M146.0 538.9h0M146.2 536.8h0M146.5 529.6h0M146.8 534.9h0M147.0 530.5h0M147.3 528.0h0M147.6 532.7h0M147.8 528.7h0M148.1 525.4h0M148.4 525.6h0M148.6 541.0h0M148.9 527.6h0M149.2 520.8h0M149.4 527.7h0M149.7 545.3h0M150.0 521.6h0M150.3 529.4h0M150.5 506.0h0M150.8 546.1h0M151.1 542.2h0M151.3 526.9h0M151.6 558.1h0M151.9 515.1h0M152.1 543.8h0M152.4 552.1h0M152.7 519.8h0M152.9 516.6h0M153.2 537.9h0M153.5 547.9h0M153.8 543.6h0M154.0 536.1h0M154.3 529.2h0M154.6 539.0h0M154.8 543.9h0M155.1 525.8h0M155.4 535.9h0M155.6 518.5h0M155.9 546.8h0M156.2 552.3h0M156.4 532.0h0M156.7 536.9h0M157.0 540.8h0M157.2 515.0h0M157.5 524.5h0M157.8 543.0h0M158.1 536.2h0M158.3 536.0h0M158.6 537.2h0M158.9 536.2h0M159.1 522.9h0M159.4 528.2h0M159.7 524.2h0M159.9 525.8h0M160.2 505.7h0M160.5 505.7h0M160.7 523.5h0M161.0 518.5h0M161.3 552.2h0M161.5 528.9h0M161.8 535.0h0M162.1 536.2h0M162.4 530.8h0M162.6 509.9h0M162.9 535.9h0M163.2 534.2h0M163.4 541.4h0M163.7 539.8h0M164.0 530.9h0M164.2 512.5h0M164.5 529.4h0M164.8 536.4h0M165.0 531.3h0M165.3 536.0h0M165.6 527.5h0M165.8 545.3h0M166.1 548.5h0M166.4 517.5h0M166.7 550.1h0M166.9 528.1h0M167.2 518.6h0M167.5 535.2h0M167.7 542.6h0M168.0 541.4h0M168.3 514.9h0M168.5 543.6h0M168.8 509.4h0M169.1 533.2h0M169.3 530.1h0M169.6 538.7h0M169.9 510.6h0M170.2 557.7h0M170.4 522.8h0M170.7 533.4h0M171.0 537.5h0M171.2 532.4h0M171.5 543.2h0M171.8 545.6h0M172.0 539.9h0M172.3 549.8h0M172.6 523.4h0M172.8 534.0h0M173.1 548.3h0M173.4 542.3h0M173.6 533.8h0M173.9 537.7h0M174.2 551.5h0M174.5 550.9h0M174.7 528.1h0M175.0 525.2h0M175.3 551.0h0M175.5 545.5h0M175.8 551.2h0M176.1 542.0h0M176.3 540.2h0M176.6 526.5h0M176.9 549.2h0M177.1 545.6h0M177.4 567.5h0M177.7 532.6h0M177.9 535.8h0M178.2 536.3h0M178.5 536.5h0M178.8 528.6h0M179.0 538.8h0M179.3 538.8h0M179.6 538.7h0M179.8 542.0h0M180.1 512.4h0M180.4 505.9h0M180.6 538.2h0M180.9 537.1h0M181.2 538.7h0M181.4 521.7h0M181.7 531.6h0M182.0 567.5h0M182.2 545.4h0M182.5 531.0h0M182.8 554.6h0M183.1 521.8h0M183.3 535.4h0M183.6 524.0h0M183.9 536.7h0M184.1 543.7h0M184.4 532.8h0M184.7 539.9h0M184.9 536.7h0M185.2 545.6h0M185.5 527.0h0M185.7 533.8h0M186.0 529.1h0M186.3 530.8h0M186.6 549.7h0M186.8 535.2h0M187.1 517.6h0M187.4 516.0h0M187.6 540.5h0M187.9 535.8h0M188.2 528.9h0M188.4 519.8h0M188.7 509.0h0M189.0 538.9h0M189.2 534.0h0M189.5 536.8h0M189.8 525.3h0M190.0 519.4h0M190.3 526.5h0M190.6 511.3h0M190.9 554.1h0M191.1 537.9h0M191.4 543.9h0M191.7 530.9h0M191.9 557.5h0M192.2 554.3h0M192.5 531.0h0M192.7 561.0h0M193.0 535.3h0M193.3 559.9h0M193.5 518.2h0M193.8 561.5h0M194.1 532.6h0M194.3 529.4h0M194.6 537.1h0M194.9 524.6h0M195.2 544.9h0M195.4 514.9h0M195.7 531.5h0M196.0 535.8h0M196.2 541.1h0M196.5 539.9h0M196.8 529.9h0M197.0 549.7h0M197.3 516.4h0M197.6 514.4h0M197.8 550.1h0M198.1 544.9h0M198.4 538.2h0M198.6 553.8h0M198.9 536.7h0M199.2 531.4h0M199.5 520.3h0M199.7 541.5h0M200.0 531.0h0M200.3 527.5h0M200.5 517.7h0M200.8 517.8h0M201.1 518.0h0M201.3 526.1h0M201.6 556.1h0M201.9 555.2h0M202.1 541.6h0M202.4 545.0h0M202.7 519.6h0M203.0 552.2h0M203.2 548.1h0M203.5 533.9h0M203.8 545.6h0M204.0 536.4h0M204.3 533.4h0M204.6 533.5h0M204.8 530.4h0M205.1 524.3h0M205.4 513.1h0M205.6 541.1h0M205.9 548.6h0M206.2 513.0h0M206.4 530.8h0M206.7 519.8h0M207.0 542.5h0M207.3 538.9h0M207.5 567.5h0M207.8 544.6h0M208.1 572.6h0M208.3 618.7h0M208.6 556.4h0M208.9 602.2h0M209.1 553.7h0M209.4 570.9h0M209.7 568.0h0M209.9 521.9h0M210.2 534.2h0M210.5 554.7h0M210.7 576.5h0M211.0 565.5h0M211.3 520.8h0M211.6 600.7h0M211.8 627.3h0M212.1 601.0h0M212.4 616.2h0M212.6 618.9h0M212.9 598.7h0M213.2 544.0h0M213.4 532.0h0M213.7 633.3h0M214.0 561.2h0M214.2 601.9h0M214.4 601.8h0M214.5 579.4h0M214.8 595.9h0M215.0 600.2h0M215.3 583.1h0M215.6 563.2h0M215.9 588.9h0M216.1 573.0h0M216.4 556.5h0M216.7 629.3h0M216.9 583.3h0M217.2 569.3h0M217.5 562.7h0M217.7 611.8h0M217.8 545.9h0M218.0 536.7h0M218.3 591.9h0M218.5 534.4h0M218.8 547.7h0M219.0 565.4h0M219.1 569.5h0M219.3 543.8h0M219.6 581.9h0M219.9 573.6h0M220.2 583.9h0M220.4 565.1h0M220.7 597.9h0M221.0 560.9h0M221.2 607.2h0M221.5 569.9h0M221.6 535.5h0M221.8 596.2h0M221.8 608.9h0M222.0 586.2h0M222.3 639.7h0M222.6 534.8h0M222.8 562.5h0M223.1 590.3h0M223.4 617.9h0M223.7 560.0h0M223.9 605.7h0M224.0 549.0h0M224.2 550.7h0M224.5 550.5h0M224.7 585.6h0M225.0 572.4h0M225.3 602.3h0M225.5 553.8h0M225.8 604.9h0M226.1 610.6h0M226.3 592.2h0M226.6 616.8h0M226.9 599.2h0M227.1 620.6h0M227.4 601.6h0M227.7 555.4h0M228.0 599.7h0M228.2 525.9h0M228.5 561.8h0M228.8 529.4h0M229.0 592.8h0M229.3 534.0h0M229.4 605.9h0M229.5 548.3h0M229.6 557.7h0M229.8 562.3h0M230.1 546.7h0M230.4 554.8h0M230.6 595.9h0M230.9 566.1h0M231.2 629.4h0M231.4 523.4h0M231.7 583.9h0M232.0 574.9h0M232.3 581.0h0M232.5 628.8h0M232.8 562.0h0M233.0 567.1h0M233.1 597.0h0M233.3 617.6h0M233.6 619.5h0M233.9 535.5h0M234.0 586.5h0M234.1 600.2h0M234.4 597.5h0M234.7 544.1h0M234.9 603.7h0M235.2 537.3h0M235.3 583.4h0M235.5 629.3h0M235.7 596.0h0M236.0 555.1h0M236.3 592.1h0M236.6 532.0h0M236.8 571.1h0M237.1 534.5h0M237.4 528.9h0M237.6 606.9h0M237.9 640.1h0M238.2 616.7h0M238.4 578.7h0M238.7 520.3h0M239.0 566.7h0M239.2 566.7h0M239.5 609.8h0M239.8 525.9h0M240.1 575.3h0M240.2 591.8h0M240.3 555.3h0M240.6 583.6h0M240.9 542.6h0M241.1 597.1h0M241.4 577.2h0M241.7 579.2h0M241.9 570.8h0M242.2 548.4h0M242.5 625.1h0M242.7 579.0h0M243.0 590.7h0M243.3 609.6h0M243.5 568.5h0M243.8 616.5h0M244.1 529.5h0M244.1 595.4h0M244.4 530.0h0M244.6 598.1h0M244.9 549.2h0M245.2 525.9h0M245.2 536.5h0M245.4 572.5h0M245.4 585.9h0M245.7 588.3h0M246.0 543.4h0M246.2 589.0h0M246.3 611.8h0M246.5 621.5h0M246.5 533.6h0M246.8 584.4h0M247.0 524.1h0M247.3 569.1h0M247.6 576.1h0M247.8 556.0h0M248.1 594.0h0M248.4 630.9h0M248.7 580.1h0M248.9 603.2h0M249.2 536.2h0M249.2 600.6h0M249.5 594.4h0M249.7 604.4h0M250.0 647.7h0M250.3 629.8h0M250.5 590.4h0M250.8 626.2h0M251.1 560.7h0M251.3 558.3h0M251.6 593.9h0M251.9 577.1h0M252.1 569.5h0M252.4 600.7h0M252.7 592.1h0M253.0 606.5h0M253.2 545.6h0M253.5 574.7h0M253.8 605.9h0M254.0 562.8h0M254.3 595.8h0M254.6 557.0h0M254.8 612.3h0M254.8 561.4h0M255.1 531.1h0M255.4 609.5h0M255.6 598.6h0M255.9 606.4h0M256.2 546.9h0M256.5 539.5h0M256.5 587.6h0M256.7 598.1h0M257.0 600.1h0M257.3 626.3h0M257.5 628.4h0M257.8 606.8h0M258.1 535.5h0M258.3 535.4h0M258.6 631.0h0M258.9 538.9h0M259.1 642.7h0M259.4 647.5h0M259.7 597.0h0M259.9 554.0h0M260.2 570.8h0M260.5 526.4h0M260.8 633.5h0M260.8 654.8h0M261.0 581.9h0M261.3 601.1h0M261.6 559.1h0M261.8 626.2h0M262.1 608.6h0M262.4 553.5h0M262.6 539.9h0M262.9 558.3h0M263.2 564.3h0M263.4 623.8h0M263.7 615.0h0M264.0 521.3h0M264.2 558.9h0M264.5 613.9h0M264.8 623.5h0M265.1 575.8h0M265.3 636.8h0M265.6 584.2h0M265.9 625.5h0M266.1 613.3h0M266.4 636.8h0M266.7 563.3h0M266.9 574.0h0M267.2 529.6h0M267.2 570.1h0M267.5 614.9h0M267.7 626.5h0M268.0 587.3h0M268.3 558.7h0M268.5 646.0h0M268.8 540.6h0M269.1 554.6h0M269.4 540.5h0M269.6 541.0h0M269.6 579.4h0M269.9 609.6h0M270.2 609.4h0M270.4 600.7h0M270.7 588.1h0M271.0 607.1h0M271.2 659.2h0M271.5 530.1h0M271.8 623.5h0M272.0 625.6h0M272.3 591.7h0M272.6 567.3h0M272.9 527.6h0M273.0 556.8h0M273.1 618.5h0M273.4 607.7h0M273.7 579.5h0M273.9 546.6h0M274.0 591.8h0M274.2 630.4h0M274.5 533.3h0M274.7 622.0h0M275.0 569.1h0M275.3 539.7h0M275.5 540.7h0M275.8 543.1h0M276.1 597.1h0M276.3 542.4h0M276.6 567.7h0M276.8 597.4h0M276.9 556.7h0M277.2 611.8h0M277.2 609.5h0M277.4 637.1h0M277.7 570.8h0M278.0 538.1h0M278.2 592.3h0M278.5 533.1h0M278.7 654.6h0M278.8 582.6h0M278.8 564.5h0M279.0 569.0h0M279.3 523.0h0M279.3 618.4h0M279.6 551.5h0M279.8 623.4h0M280.1 543.1h0M280.4 547.5h0M280.6 599.7h0M280.9 589.9h0M281.2 634.0h0M281.5 611.5h0M281.7 560.2h0M282.0 532.7h0M282.3 567.4h0M282.5 600.3h0M282.8 607.1h0M282.9 604.6h0M283.1 587.4h0M283.3 635.4h0M283.6 629.9h0M283.9 539.1h0M284.1 579.7h0M284.4 591.0h0M284.7 543.9h0M284.9 597.9h0M285.2 616.3h0M285.2 592.2h0M285.4 581.3h0M285.5 543.8h0M285.8 607.8h0M286.0 601.3h0M286.3 560.4h0M286.6 558.3h0M286.8 617.9h0M287.1 566.8h0M287.3 595.0h0M287.4 580.8h0M287.6 639.0h0M287.7 595.2h0M287.9 578.4h0M288.2 601.3h0M288.2 625.4h0M288.4 566.4h0M288.7 603.9h0M288.9 589.7h0M289.0 630.7h0M289.2 526.6h0M289.5 539.1h0M289.8 529.4h0M290.1 643.7h0M290.3 636.6h0M290.6 553.5h0M290.9 586.3h0M291.1 576.7h0M291.4 604.1h0M291.7 573.1h0M291.9 557.2h0M292.2 617.0h0M292.5 551.0h0M292.7 554.2h0M293.0 617.3h0M293.3 570.9h0M293.6 552.1h0M293.8 604.1h0M294.1 602.4h0M294.4 560.2h0M294.6 577.9h0M294.8 616.4h0M294.9 557.1h0M295.2 581.5h0M295.4 573.7h0M295.7 563.6h0M296.0 634.3h0M296.2 618.1h0M296.3 566.1h0M296.5 606.6h0M296.8 628.3h0M297.0 637.3h0M297.3 539.7h0M297.5 604.7h0M297.6 667.1h0M297.8 610.0h0M297.9 574.8h0M298.1 589.4h0M298.4 591.4h0M298.7 577.4h0M298.9 571.3h0M299.2 602.7h0M299.5 600.9h0M299.7 563.4h0M300.0 571.7h0M300.3 556.1h0M300.5 597.1h0M300.5 567.1h0M300.8 603.2h0M301.1 641.0h0M301.3 565.7h0M301.6 572.4h0M301.9 634.7h0M302.2 568.1h0M302.4 665.8h0M302.7 625.2h0M303.0 554.5h0M303.2 642.0h0M303.5 613.2h0M303.8 614.0h0M304.0 600.3h0M304.3 582.8h0M304.6 583.7h0M304.8 649.3h0M305.1 651.7h0M305.4 643.9h0M305.6 601.5h0M305.7 564.7h0M305.9 635.9h0M306.2 592.6h0M306.5 625.9h0M306.5 574.9h0M306.7 607.4h0M307.0 551.3h0M307.3 553.9h0M307.5 618.3h0M307.8 574.5h0M308.1 590.5h0M308.3 632.9h0M308.6 642.8h0M308.9 562.1h0M309.1 549.5h0M309.4 588.8h0M309.7 581.1h0M310.0 559.1h0M310.2 667.5h0M310.5 583.9h0M310.8 618.0h0M311.0 616.4h0M311.3 590.4h0M311.6 548.8h0M311.8 629.1h0M312.1 636.9h0M312.4 607.6h0M312.5 579.7h0M312.6 623.2h0M312.9 634.5h0M313.1 616.8h0M313.2 568.2h0M313.4 550.9h0M313.7 589.3h0M314.0 642.9h0M314.3 602.0h0M314.5 613.1h0M314.8 582.8h0M315.1 598.8h0M315.3 597.1h0M315.4 609.5h0M315.6 626.3h0M315.9 602.3h0M316.1 569.1h0M316.4 613.9h0M316.7 627.4h0M316.9 630.0h0M317.2 552.9h0M317.5 570.4h0M317.7 587.7h0M318.0 583.5h0M318.3 573.0h0M318.6 560.6h0M318.8 569.0h0M319.1 606.3h0M319.4 631.8h0M319.6 627.6h0M319.9 545.8h0M320.2 614.5h0M320.4 636.3h0M320.7 551.7h0M321.0 630.6h0M321.1 626.9h0M321.2 625.4h0M321.5 593.0h0M321.8 572.0h0M322.0 645.2h0M322.3 615.0h0M322.6 626.7h0M322.9 619.3h0M323.0 596.1h0M323.1 583.8h0M323.4 629.2h0M323.7 603.1h0M323.9 552.3h0M324.2 621.5h0M324.2 581.8h0M324.5 630.1h0M324.7 567.6h0M325.0 632.5h0M325.3 630.3h0M325.5 622.5h0M325.8 640.5h0M326.1 629.6h0M326.4 566.6h0M326.6 632.2h0M326.9 618.7h0M327.2 650.3h0M327.2 595.1h0M327.4 564.8h0M327.7 609.9h0M328.0 607.7h0M328.2 592.5h0M328.4 606.0h0M328.5 659.3h0M328.8 601.5h0M329.0 563.4h0M329.3 564.1h0M329.4 571.3h0M329.6 616.8h0M329.8 595.3h0M330.1 622.3h0M330.4 645.7h0M330.7 621.5h0M330.9 542.7h0M331.2 606.5h0M331.5 597.2h0M331.5 592.6h0M331.7 593.5h0M332.0 567.8h0M332.3 598.4h0M332.5 650.6h0M332.8 555.1h0M333.1 607.8h0M333.3 608.4h0M333.6 648.9h0M333.9 564.7h0M334.1 642.5h0M334.4 634.0h0M334.7 622.9h0M335.0 567.9h0M335.2 624.1h0M335.5 588.9h0M335.8 607.2h0M336.0 556.2h0M336.3 630.9h0M336.6 614.3h0M336.8 636.6h0M337.1 565.6h0M337.4 642.5h0M337.6 602.1h0M337.8 562.2h0M337.9 630.5h0M338.2 667.2h0M338.4 653.6h0M338.7 576.3h0M338.7 567.0h0M339.0 654.5h0M339.3 610.5h0M339.5 557.3h0M339.8 608.0h0M340.1 640.0h0M340.3 598.9h0M340.6 600.8h0M340.9 615.8h0M341.1 610.1h0M341.4 610.2h0M341.7 637.9h0M341.7 604.2h0M341.9 566.6h0M342.2 667.3h0M342.5 566.6h0M342.8 558.2h0M343.0 639.7h0M343.3 632.4h0M343.6 589.7h0M343.8 608.3h0M344.1 588.3h0M344.4 643.3h0M344.6 558.4h0M344.9 594.3h0M345.2 531.8h0M345.4 599.5h0M345.7 578.1h0M346.0 621.8h0M346.2 577.2h0M346.5 634.1h0M346.8 569.2h0M347.1 625.2h0M347.3 595.3h0M347.6 626.9h0M347.9 616.8h0M348.1 630.1h0M348.1 586.9h0M348.4 630.2h0M348.7 578.2h0M348.8 636.0h0M348.9 607.2h0M349.2 641.5h0M349.5 562.8h0M349.7 564.5h0M350.0 638.5h0M350.3 630.2h0M350.5 574.7h0M350.5 600.8h0M350.8 561.8h0M351.1 591.6h0M351.4 659.3h0M351.6 640.7h0M351.9 555.9h0M352.2 652.9h0M352.4 611.8h0M352.7 556.8h0M352.7 590.8h0M353.0 554.1h0M353.2 628.9h0M353.2 601.5h0M353.5 627.8h0M353.8 656.8h0M354.0 564.1h0M354.3 634.8h0M354.6 680.9h0M354.8 619.1h0M355.1 601.3h0M355.4 673.6h0M355.7 580.2h0M355.9 575.6h0M356.2 575.8h0M356.5 580.8h0M356.6 679.9h0M356.7 581.0h0M357.0 633.9h0M357.1 557.5h0M357.3 623.5h0M357.5 632.6h0M357.8 639.7h0M358.1 647.6h0M358.3 677.3h0M358.6 585.7h0M358.9 535.7h0M359.1 582.6h0M359.4 609.7h0M359.7 596.4h0M360.0 564.1h0M360.2 627.9h0M360.5 618.9h0M360.8 640.9h0M361.0 594.0h0M361.3 586.1h0M361.6 644.0h0M361.8 628.9h0M362.1 672.4h0M362.4 644.7h0M362.6 629.6h0M362.9 558.6h0M363.2 623.7h0M363.5 647.1h0M363.7 640.2h0M364.0 588.4h0M364.3 545.0h0M364.3 609.2h0M364.5 667.4h0M364.8 619.7h0M365.1 599.4h0M365.3 584.6h0M365.6 584.2h0M365.9 569.0h0M365.9 570.9h0M366.1 639.4h0M366.2 642.7h0M366.4 561.1h0M366.5 635.6h0M366.7 579.3h0M366.9 633.3h0M367.2 664.9h0M367.5 557.0h0M367.8 626.0h0M368.0 576.4h0M368.3 676.0h0M368.5 619.3h0M368.6 634.2h0M368.7 639.3h0M368.8 635.4h0M369.1 645.3h0M369.4 678.2h0M369.6 604.1h0M369.7 588.5h0M369.9 631.6h0M370.2 559.1h0M370.4 582.6h0M370.7 617.4h0M371.0 578.0h0M371.2 610.2h0M371.5 555.2h0M371.8 629.6h0M372.1 569.6h0M372.3 639.5h0M372.6 597.5h0M372.9 586.9h0M373.1 654.2h0M373.4 610.9h0M373.7 649.1h0M373.9 630.0h0M374.2 624.8h0M374.5 566.3h0M374.7 610.9h0M375.0 623.6h0M375.1 648.6h0M375.3 629.1h0M375.5 611.7h0M375.8 585.0h0M376.1 648.9h0M376.4 618.1h0M376.6 571.2h0M376.9 632.3h0M377.2 636.4h0M377.2 612.5h0M377.4 570.3h0M377.7 644.7h0M378.0 606.5h0M378.2 648.0h0M378.5 600.3h0M378.6 583.2h0M378.6 593.3h0M378.8 590.1h0M379.0 567.1h0M379.3 611.2h0M379.6 611.6h0M379.9 555.8h0M380.1 627.6h0M380.4 665.0h0M380.7 578.3h0M380.9 644.3h0M381.2 589.9h0M381.5 626.7h0M381.7 613.6h0M381.8 564.2h0M382.0 634.8h0M382.3 639.0h0M382.4 637.6h0M382.5 636.6h0M382.8 649.0h0M383.1 562.3h0M383.3 586.8h0M383.6 651.5h0M383.9 582.7h0M384.2 614.2h0M384.4 560.5h0M384.7 635.0h0M385.0 608.2h0M385.2 604.0h0M385.5 624.2h0M385.8 638.2h0M386.0 562.5h0M386.3 590.6h0M386.6 592.0h0M386.8 681.0h0M387.1 575.8h0M387.4 556.5h0M387.6 627.3h0M387.9 646.6h0M388.2 622.8h0M388.5 578.7h0M388.7 586.2h0M389.0 580.2h0M389.3 563.8h0M389.5 572.5h0M389.8 671.0h0M390.1 613.2h0M390.3 579.7h0M390.6 611.2h0M390.7 616.5h0M390.7 579.2h0M390.9 575.4h0M391.1 650.8h0M391.4 600.5h0M391.7 568.1h0M391.9 652.2h0M391.9 571.5h0M392.2 538.9h0M392.5 595.8h0M392.5 588.0h0M392.8 650.8h0M393.0 608.6h0M393.3 644.1h0M393.6 600.6h0M393.8 565.1h0M394.1 644.8h0M394.4 640.6h0M394.6 596.2h0M394.9 568.9h0M395.2 633.6h0M395.4 636.9h0M395.7 571.6h0M396.0 672.7h0M396.3 564.7h0M396.5 659.1h0M396.8 650.3h0M397.1 649.7h0M397.1 637.8h0M397.2 568.3h0M397.3 621.0h0M397.6 575.5h0M397.9 602.5h0M398.1 581.2h0M398.4 587.9h0M398.6 653.4h0M398.7 561.5h0M398.9 641.7h0M399.2 631.8h0M399.5 646.3h0M399.7 647.9h0M400.0 635.4h0M400.3 589.9h0M400.6 621.2h0M400.8 601.0h0M401.1 623.6h0M401.4 600.8h0M401.6 611.2h0M401.9 637.5h0M402.2 618.3h0M402.4 646.9h0M402.7 628.8h0M403.0 623.7h0M403.2 652.5h0M403.5 601.6h0M403.8 597.9h0M404.0 542.8h0M404.3 654.5h0M404.6 569.6h0M404.9 621.5h0M405.1 617.3h0M405.4 656.7h0M405.7 640.2h0M405.9 652.3h0M406.1 636.8h0M406.2 645.1h0M406.5 594.1h0M406.6 580.1h0M406.7 634.3h0M407.0 580.4h0M407.3 564.5h0M407.5 641.5h0M407.8 646.7h0M407.9 601.9h0M408.1 637.1h0M408.2 616.6h0M408.3 684.9h0M408.6 651.6h0M408.9 633.5h0M409.2 641.9h0M409.4 598.9h0M409.7 564.9h0M409.8 608.1h0M410.0 604.2h0M410.2 589.4h0M410.5 626.0h0M410.8 640.6h0M411.0 548.3h0M411.3 583.0h0M411.6 614.1h0M411.8 621.3h0M412.1 562.8h0M412.4 608.1h0M412.7 596.9h0M412.9 662.4h0M413.2 570.4h0M413.5 641.0h0M413.7 560.5h0M414.0 560.1h0M414.3 642.4h0M414.5 602.6h0M414.5 568.1h0M414.8 634.4h0M414.8 580.6h0M415.1 606.5h0M415.1 558.2h0M415.3 677.4h0M415.6 617.0h0M415.9 687.3h0M415.9 596.2h0M416.1 583.6h0M416.4 612.5h0M416.7 577.3h0M416.9 580.2h0M417.0 658.6h0M417.2 648.4h0M417.2 575.2h0M417.5 634.8h0M417.8 566.9h0M418.0 616.4h0M418.3 588.6h0M418.6 650.9h0M418.8 591.7h0M419.1 652.3h0M419.4 578.6h0M419.6 608.1h0M419.9 568.0h0M420.2 563.6h0M420.4 653.2h0M420.7 637.3h0M421.0 617.4h0M421.3 570.4h0M421.5 578.3h0M421.8 679.1h0M422.1 592.9h0M422.3 571.5h0M422.6 624.4h0M422.9 636.4h0M423.1 628.1h0M423.4 586.4h0M423.7 659.7h0M423.9 619.1h0M424.2 666.6h0M424.4 657.4h0M424.5 621.2h0M424.7 591.7h0M425.0 575.3h0M425.3 619.5h0M425.6 654.7h0M425.8 579.5h0M426.0 594.1h0M426.1 575.0h0M426.4 571.3h0M426.6 661.7h0M426.9 637.8h0M427.2 600.4h0M427.4 594.8h0M427.7 610.1h0M427.7 614.7h0M428.0 644.9h0M428.2 651.0h0M428.5 650.7h0M428.8 679.4h0M429.1 606.3h0M429.3 607.5h0M429.6 600.1h0M429.9 600.2h0M430.1 681.3h0M430.4 684.3h0M430.7 669.7h0M430.9 637.2h0M431.2 612.6h0M431.5 636.3h0M431.7 620.8h0M432.0 675.1h0M432.3 553.3h0M432.5 680.1h0M432.8 672.9h0M433.1 674.8h0M433.4 618.6h0M433.6 671.0h0M433.9 579.3h0M434.2 562.6h0M434.4 633.7h0M434.7 571.1h0M435.0 560.8h0M435.2 607.8h0M435.5 616.1h0M435.8 562.5h0M436.0 658.2h0M436.3 565.4h0M436.6 667.9h0M436.8 665.3h0M437.1 554.9h0M437.4 620.4h0M437.7 585.0h0M437.9 569.1h0M438.2 576.1h0M438.5 604.6h0M438.7 563.0h0M439.0 572.8h0M439.3 611.2h0M439.5 677.1h0M439.8 599.0h0M440.1 673.2h0M440.3 591.5h0M440.6 686.5h0M440.9 670.1h0M441.1 567.9h0M441.4 583.2h0M441.7 688.5h0M442.0 597.5h0M442.2 587.7h0M442.5 588.1h0M442.8 679.7h0M443.0 621.5h0M443.3 635.5h0M443.6 597.3h0M443.8 599.4h0M444.1 678.9h0M444.4 607.1h0M444.6 648.6h0M444.9 606.7h0M445.2 674.2h0M445.4 672.8h0M445.7 613.9h0M446.0 667.2h0M446.3 651.8h0M446.5 625.3h0M446.8 652.4h0M447.1 663.4h0M447.3 675.2h0M447.6 567.1h0M447.9 665.8h0M448.1 603.4h0M448.4 593.2h0M448.7 575.7h0M448.9 634.7h0M449.2 678.6h0M449.5 636.8h0M449.8 592.1h0M450.0 682.4h0M450.3 663.0h0M450.6 676.8h0M450.8 688.3h0M451.1 674.2h0M451.4 626.0h0M451.6 666.4h0M451.9 671.3h0M452.2 635.5h0M452.4 596.1h0M452.7 688.5h0M453.0 688.5h0M453.2 659.2h0M453.5 646.7h0M453.8 575.2h0M454.1 588.6h0M454.3 641.7h0M454.6 686.1h0M454.9 662.3h0M455.1 589.7h0M455.4 573.0h0M455.7 686.6h0M455.9 688.5h0M456.2 585.0h0M456.5 623.5h0M456.7 580.9h0M457.0 581.6h0M457.3 621.3h0M457.5 632.0h0M457.8 668.5h0M458.1 615.1h0M458.4 569.2h0M458.6 643.5h0M458.9 576.8h0M459.2 657.7h0M459.4 576.3h0M459.7 595.6h0M460.0 595.3h0M460.2 688.0h0M460.5 572.9h0M460.8 590.6h0M461.0 669.1h0M461.3 679.3h0M461.6 669.4h0M461.8 615.6h0M462.1 680.9h0M462.4 572.4h0M462.7 669.0h0M462.9 613.3h0M463.2 685.5h0M463.5 681.5h0M463.7 600.5h0M464.0 631.1h0M464.3 649.7h0M464.5 583.5h0M464.8 619.7h0M465.1 623.3h0M465.3 616.5h0M465.6 574.4h0M465.9 685.0h0M466.2 606.5h0M466.4 637.9h0M466.7 587.9h0M467.0 600.7h0M467.2 579.4h0M467.5 617.4h0M467.8 574.3h0M468.0 672.2h0M468.3 617.1h0M468.6 687.8h0M468.8 622.1h0M469.1 687.9h0M469.4 657.7h0M469.6 673.7h0M469.9 585.7h0M470.2 606.8h0M470.5 574.0h0M470.7 587.3h0M471.0 663.4h0M471.3 650.9h0M471.5 564.6h0M471.8 677.5h0M472.1 669.8h0M472.3 594.0h0M472.6 681.2h0M472.9 618.2h0M473.1 612.7h0M473.4 604.6h0M473.7 613.5h0M473.9 637.5h0M474.2 643.4h0M474.5 596.6h0M474.8 576.7h0M475.0 651.7h0M475.3 685.6h0M475.6 567.7h0M475.8 579.2h0M476.1 648.2h0M476.4 670.2h0M476.6 561.2h0M476.9 590.5h0M477.2 607.7h0M477.4 610.6h0M477.7 609.0h0M478.0 590.6h0M478.2 666.4h0M478.5 684.7h0M478.8 681.8h0M479.1 595.5h0M479.3 603.6h0M479.6 642.9h0M479.9 591.4h0M480.1 674.8h0M480.4 609.4h0M480.7 670.9h0M480.9 643.2h0M481.2 674.2h0M481.5 600.5h0M481.7 649.0h0M482.0 627.7h0M482.3 606.3h0M482.6 596.8h0M482.8 675.3h0M483.1 649.0h0M483.4 680.0h0M483.6 667.8h0M483.9 665.1h0M484.2 561.7h0M484.4 617.8h0M484.7 591.3h0M485.0 637.1h0M485.2 652.6h0M485.5 667.4h0M485.8 610.4h0M486.0 630.8h0M486.3 608.1h0M486.6 664.3h0M486.9 570.8h0M487.1 665.6h0M487.4 650.5h0M487.7 631.6h0M487.9 582.6h0M488.2 622.5h0M488.5 648.4h0M488.7 620.3h0M489.0 569.1h0M489.3 615.8h0M489.5 598.3h0M489.8 659.0h0M490.1 686.5h0M490.3 656.9h0M490.6 571.2h0M490.9 678.6h0M491.2 667.4h0M491.4 612.4h0M491.7 649.9h0M492.0 575.3h0M492.2 600.1h0M492.5 683.2h0M492.8 629.2h0M493.0 672.9h0M493.3 597.6h0M493.6 591.5h0M493.8 635.4h0M494.1 605.8h0M494.4 585.1h0M494.6 681.0h0M494.9 624.1h0M495.2 685.1h0M495.5 637.2h0M495.7 652.2h0M496.0 681.6h0M496.3 567.2h0M496.5 645.3h0M496.8 682.6h0M497.1 610.3h0M497.3 685.9h0M497.6 611.6h0M497.9 668.0h0M498.1 596.6h0M498.4 645.5h0M498.7 678.1h0M498.9 687.5h0M499.2 620.3h0M499.5 581.3h0M499.8 676.8h0M500.0 578.1h0M500.3 669.2h0M500.6 590.0h0M500.8 657.7h0M501.1 645.8h0M501.4 669.5h0M501.6 686.7h0M501.9 623.7h0M502.2 562.6h0M502.4 581.2h0M502.7 676.0h0M503.0 576.5h0M503.3 622.3h0M503.5 662.5h0M503.8 662.6h0M504.1 588.8h0M504.3 673.5h0M504.6 687.3h0M504.9 618.6h0M505.1 663.5h0M505.4 628.7h0M505.7 684.4h0M505.9 616.9h0M506.2 655.1h0M506.5 637.0h0M506.7 610.6h0M507.0 611.9h0M507.3 581.0h0M507.6 613.7h0M507.8 665.8h0M508.1 674.3h0M508.4 585.4h0M508.6 589.8h0M508.9 582.4h0M509.2 606.7h0M509.4 586.3h0M509.7 686.3h0M510.0 575.5h0M510.2 683.1h0M510.5 586.6h0M510.8 636.3h0M511.0 673.2h0M511.3 681.2h0M511.6 591.1h0M511.9 582.0h0M512.1 646.3h0M512.4 601.0h0M512.7 684.5h0M512.9 624.8h0M513.2 595.0h0M513.5 614.1h0M513.7 583.1h0M514.0 628.7h0M514.3 674.7h0M514.5 582.7h0M514.8 683.1h0M515.1 684.7h0M515.3 664.0h0M515.6 684.4h0M515.9 678.9h0M516.2 647.8h0M516.4 675.3h0M516.7 654.1h0M517.0 578.9h0M517.2 583.4h0M517.5 585.7h0M517.8 630.5h0M518.0 682.8h0M518.3 651.0h0M518.6 674.0h0M518.8 664.7h0M519.1 645.0h0M519.4 615.9h0M519.7 626.8h0M519.9 671.7h0M520.2 569.1h0M520.5 673.4h0M520.7 681.7h0M521.0 672.9h0M521.3 648.0h0M521.5 634.6h0M521.8 616.1h0M522.1 655.3h0M522.3 622.9h0M522.6 670.2h0M522.9 618.9h0M523.1 592.9h0M523.4 679.5h0M523.7 678.6h0M524.0 574.1h0M524.2 578.0h0M524.5 569.2h0M524.8 640.5h0M525.0 603.0h0M525.3 593.3h0M525.6 686.8h0M525.8 579.7h0M526.1 619.1h0M526.4 687.2h0M526.6 671.6h0M526.9 569.9h0M527.2 625.9h0M527.4 579.4h0M527.7 610.0h0M528.0 615.1h0M528.3 596.9h0M528.5 688.8h0M528.8 675.5h0M529.1 664.5h0M529.3 612.6h0M529.6 674.3h0M529.9 687.3h0M530.1 680.8h0M530.4 667.7h0M530.7 573.2h0M530.9 607.7h0M531.2 635.7h0M531.5 688.5h0M531.7 678.0h0M532.0 657.8h0M532.3 630.6h0M532.6 668.3h0M532.8 585.2h0M533.1 681.1h0M533.4 564.1h0M533.6 669.3h0M533.9 607.9h0M534.2 625.8h0M534.4 603.3h0M534.7 678.0h0M535.0 680.2h0M535.2 684.0h0M535.5 663.0h0M535.8 681.0h0M536.1 669.6h0M536.3 668.9h0M536.6 685.1h0M536.9 674.3h0M537.1 678.9h0M537.4 609.0h0M537.7 668.4h0M537.9 614.2h0M538.2 669.7h0M538.5 619.3h0M538.7 667.1h0M539.0 671.5h0M539.3 584.1h0M539.5 664.3h0M539.8 596.1h0M540.1 585.5h0M540.4 683.1h0M540.6 672.0h0M540.9 663.4h0M541.2 687.6h0M541.4 639.6h0M541.7 686.0h0M542.0 652.1h0M542.2 647.7h0M542.5 677.5h0M542.8 669.8h0M543.0 680.0h0M543.3 687.4h0M543.6 687.8h0M543.8 589.7h0M544.1 657.0h0M544.4 673.3h0M544.7 591.0h0M544.9 611.0h0M545.2 589.0h0M545.5 582.2h0M545.7 674.7h0M546.0 646.3h0M546.3 687.0h0M546.5 591.8h0M546.8 594.1h0M547.1 662.0h0M547.3 582.8h0M547.6 682.0h0M547.9 651.7h0M548.1 673.6h0M548.4 650.2h0M548.7 625.9h0M549.0 584.6h0M549.2 662.5h0M549.5 634.3h0M549.8 662.4h0M550.0 643.1h0M550.3 662.4h0M550.6 628.1h0M550.8 675.2h0M551.1 638.9h0M551.4 625.8h0M551.6 649.8h0M551.9 657.4h0M552.2 617.5h0M552.5 597.6h0M552.7 669.3h0M553.0 677.4h0M553.3 596.6h0M553.5 599.1h0M553.8 659.4h0M554.1 582.7h0M554.3 651.1h0M554.6 649.5h0M554.9 669.7h0M555.1 622.0h0M555.4 639.4h0M555.7 683.9h0M555.9 688.7h0M556.2 633.9h0M556.5 663.6h0M556.8 636.1h0M557.0 639.5h0M557.3 644.2h0M557.6 580.9h0M557.8 590.1h0M558.1 593.8h0M558.4 624.2h0M558.6 661.0h0M558.9 665.6h0M559.2 663.6h0M559.4 675.9h0M559.7 590.3h0M560.0 689.0h0M560.2 671.5h0M560.5 686.9h0M560.8 678.4h0M561.1 620.6h0M561.3 633.2h0M561.6 679.6h0M561.9 652.1h0M562.1 688.2h0M562.4 664.0h0M562.7 652.6h0M562.9 613.8h0M563.2 688.4h0M563.5 642.3h0M563.7 657.3h0M564.0 582.6h0M564.3 666.4h0M564.5 629.1h0M564.8 676.4h0M565.1 668.9h0M565.4 672.9h0M565.6 648.9h0M565.9 651.0h0M566.2 590.2h0M566.4 613.6h0M566.7 662.0h0M567.0 688.9h0M567.2 595.4h0M567.5 600.4h0M567.8 581.3h0M568.0 603.9h0M568.3 624.0h0M568.6 664.3h0M568.9 637.3h0M569.1 638.2h0M569.4 611.6h0M569.7 633.6h0M569.9 623.6h0M570.2 665.1h0M570.5 688.5h0M570.7 579.8h0M571.0 601.9h0M571.3 670.5h0M571.5 599.5h0M571.8 634.9h0M572.1 572.9h0M572.3 611.1h0M572.6 634.9h0M572.9 637.3h0M573.2 588.8h0M573.4 621.5h0M573.7 683.6h0M574.0 625.7h0M574.2 666.6h0M574.5 668.5h0M574.8 565.7h0M575.0 666.8h0M575.3 654.8h0M575.6 681.2h0M575.8 680.5h0M576.1 672.4h0M576.4 614.5h0M576.6 661.7h0M576.9 678.5h0M577.2 613.2h0M577.5 674.8h0M577.7 678.1h0M578.0 589.7h0M578.3 610.2h0M578.5 678.5h0M578.8 634.7h0M579.1 667.2h0M579.3 670.4h0M579.6 595.5h0M579.9 600.2h0M580.1 595.0h0M580.4 635.2h0M580.7 630.0h0M580.9 585.4h0M581.2 591.1h0M581.5 598.9h0M581.8 649.7h0M582.0 666.5h0M582.3 602.7h0M582.6 572.4h0M582.8 686.0h0M583.1 681.1h0M583.4 635.1h0M583.6 665.3h0M583.9 680.3h0M584.2 584.3h0M584.4 668.6h0M584.7 687.7h0M585.0 614.2h0M585.2 669.0h0M585.5 678.5h0M585.8 681.3h0M586.1 652.0h0M586.3 639.6h0M586.6 593.2h0M586.9 650.6h0M587.1 675.8h0M587.4 675.8h0M587.7 654.7h0M587.9 651.5h0M588.2 653.9h0M588.5 666.7h0M588.7 688.6h0M589.0 589.4h0M589.3 643.9h0M589.6 604.1h0M589.8 630.8h0M590.1 590.4h0M590.4 618.6h0M590.6 664.2h0M590.9 689.0h0M591.2 602.4h0M591.4 676.4h0M591.7 628.6h0M592.0 674.8h0M592.2 679.8h0M592.5 602.6h0M592.8 637.3h0M593.0 673.7h0M593.3 655.7h0M593.6 688.4h0M593.9 599.8h0M594.1 643.9h0M594.4 604.7h0M594.7 629.9h0M594.9 674.5h0M595.2 650.7h0M595.5 617.9h0M595.7 687.8h0M596.0 667.1h0M596.3 669.9h0M596.5 648.6h0M596.8 576.1h0M597.1 686.7h0M597.3 681.6h0M597.6 615.0h0M597.9 614.5h0M598.2 688.1h0M598.4 680.4h0M598.7 594.4h0M599.0 602.9h0M599.2 688.2h0M599.5 661.6h0M599.8 609.5h0M600.0 632.5h0M600.3 683.7h0M600.6 674.8h0M600.8 642.9h0M601.1 611.1h0M601.4 611.5h0M601.6 618.3h0M601.9 662.1h0M602.2 671.4h0M602.5 679.9h0M602.7 654.4h0M603.0 633.5h0M603.3 687.3h0M603.5 656.6h0M603.8 658.6h0M604.1 685.7h0M604.3 639.9h0M604.6 608.4h0M604.9 666.9h0M605.1 604.1h0M605.4 638.8h0M605.7 660.6h0M606.0 644.7h0M606.2 688.4h0M606.5 686.8h0M606.8 663.3h0M607.0 630.1h0M607.3 663.0h0M607.6 678.0h0M607.8 640.3h0M608.1 628.5h0M608.4 635.2h0M608.6 666.0h0M608.9 637.3h0M609.2 657.0h0M609.4 597.6h0M609.7 663.3h0M610.0 686.6h0M610.3 687.4h0M610.5 683.7h0M610.8 672.8h0M611.1 663.1h0M611.3 685.3h0M611.6 604.9h0M611.9 682.8h0M612.1 668.4h0M612.4 676.7h0M612.7 633.9h0M612.9 671.3h0M613.2 664.4h0M613.5 655.6h0M613.7 606.6h0M614.0 599.8h0M614.3 657.4h0M614.6 608.2h0M614.8 687.8h0M615.1 584.7h0M615.4 670.0h0M615.6 667.8h0M615.9 584.7h0M616.2 637.2h0M616.4 679.8h0M616.7 640.9h0M617.0 588.7h0M617.2 611.2h0M617.5 627.2h0M617.8 667.3h0M618.0 673.6h0M618.3 666.7h0M618.6 688.2h0M618.9 604.7h0M619.1 589.0h0M619.4 675.1h0M619.7 598.8h0M619.9 594.7h0M620.2 632.2h0M620.5 683.1h0M620.7 682.3h0M621.0 603.1h0M621.3 660.6h0M621.5 686.1h0M621.8 586.8h0M622.1 591.3h0M622.4 581.8h0M622.6 675.3h0M622.9 665.4h0M623.2 685.3h0M623.4 638.1h0M623.7 680.2h0M624.0 657.8h0M624.2 646.1h0M624.5 678.7h0M624.8 647.9h0M625.0 579.1h0M625.3 610.2h0M625.6 588.1h0M625.8 643.2h0M626.1 653.9h0M626.4 583.0h0M626.7 643.9h0M626.9 642.8h0M627.2 635.9h0M627.5 618.3h0M627.7 680.0h0M628.0 605.0h0M628.3 671.0h0M628.5 661.6h0M628.8 639.8h0M629.1 674.9h0M629.3 604.9h0M629.6 578.3h0M629.9 641.3h0M630.1 602.7h0M630.4 588.3h0M630.7 644.8h0M631.0 623.8h0M631.2 597.8h0M631.5 627.4h0M631.8 654.3h0M632.0 681.9h0M632.3 593.1h0M632.6 658.0h0M632.8 676.9h0M633.1 684.0h0M633.4 607.6h0M633.6 677.1h0M633.9 683.9h0M634.2 682.3h0M634.4 656.5h0M634.7 600.1h0M635.0 651.7h0M635.3 672.1h0M635.5 675.7h0M635.8 586.7h0M636.1 649.5h0M636.3 681.8h0M636.6 585.8h0M636.9 652.8h0M637.1 640.9h0M637.4 682.6h0M637.7 666.2h0M637.9 638.8h0M638.2 684.4h0M638.5 665.8h0M638.8 681.3h0M639.0 608.6h0M639.3 661.0h0M639.6 680.0h0M639.8 630.5h0M640.1 665.0h0M640.4 671.5h0M640.6 624.1h0M640.9 682.7h0M641.2 674.5h0M641.4 674.1h0M641.7 670.0h0M642.0 672.2h0M642.2 649.5h0M642.5 587.4h0M642.8 665.3h0M643.1 641.5h0M643.3 688.7h0M643.6 582.1h0M643.9 636.9h0M644.1 672.6h0M644.4 687.9h0M644.7 601.6h0M644.9 640.6h0M645.2 599.9h0M645.5 609.8h0M645.7 686.6h0M646.0 666.0h0M646.3 683.7h0M646.5 650.5h0M646.8 675.0h0M647.1 682.4h0M647.4 687.9h0M647.6 637.0h0M647.9 643.1h0M648.2 640.9h0M648.4 682.6h0M648.7 625.2h0M649.0 643.9h0M649.2 621.6h0M649.5 612.2h0M649.8 666.3h0M650.0 688.4h0M650.3 666.7h0M650.6 664.9h0M650.8 590.5h0M651.1 616.1h0M651.4 634.3h0M651.7 575.2h0M651.9 672.0h0M652.2 617.5h0M652.5 669.4h0M652.7 593.4h0M653.0 669.8h0M653.3 625.7h0M653.5 650.7h0M653.8 625.3h0M654.1 687.4h0M654.3 669.9h0M654.6 677.9h0M654.9 664.7h0M655.1 666.2h0M655.4 650.1h0M655.7 653.7h0M656.0 678.2h0M656.2 627.7h0M656.5 668.2h0M656.8 683.9h0M657.0 603.7h0M657.3 675.5h0M657.6 657.4h0M657.8 645.5h0M658.1 671.4h0M658.4 678.1h0M658.6 668.4h0M658.9 614.1h0M659.2 672.1h0M659.5 649.2h0M659.7 682.8h0M660.0 662.0h0M660.3 655.3h0M660.5 669.2h0M660.8 647.0h0M661.1 663.4h0M661.3 680.6h0M661.6 684.3h0M661.9 589.4h0M662.1 678.9h0M662.4 688.9h0M662.7 604.8h0M662.9 668.7h0M663.2 679.4h0M663.5 621.6h0M663.8 616.3h0M664.0 663.0h0M664.3 588.8h0M664.6 685.5h0M664.8 655.9h0M665.1 651.5h0M665.4 677.5h0M665.6 671.7h0M665.9 672.0h0M666.2 685.8h0M666.4 663.0h0M666.7 666.3h0M667.0 687.9h0M667.2 591.2h0M667.5 643.8h0M667.8 677.7h0M668.1 615.8h0M668.3 612.6h0M668.6 628.2h0M668.9 672.6h0M669.1 642.1h0M669.4 610.1h0M669.7 642.5h0M669.9 622.7h0M670.2 662.8h0M670.5 667.5h0M670.7 678.0h0M671.0 682.6h0M671.3 609.6h0M671.5 689.0h0M671.8 683.1h0M672.1 647.2h0M672.4 677.0h0M672.6 626.6h0M672.9 665.6h0M673.2 623.2h0M673.4 666.7h0M673.7 663.6h0M674.0 664.9h0M674.2 688.6h0M674.5 650.0h0M674.8 641.3h0M675.0 676.8h0M675.3 641.2h0M675.6 680.9h0M675.9 682.8h0M676.1 674.2h0M676.4 647.2h0M676.7 681.0h0M676.9 676.7h0M677.2 676.1h0M677.5 676.7h0M677.7 664.1h0M678.0 686.1h0M678.3 621.3h0M678.5 635.3h0M678.8 680.9h0M679.1 629.3h0M679.3 685.2h0M679.6 686.5h0M679.9 677.5h0M680.2 649.0h0M680.4 654.5h0M680.7 602.0h0M681.0 635.0h0M681.2 646.7h0M681.5 680.1h0M681.8 670.5h0M682.0 686.2h0M682.3 684.4h0M682.6 595.4h0M682.8 685.4h0M683.1 687.6h0M683.4 604.6h0M683.6 663.4h0M683.9 686.6h0M684.2 634.3h0M684.5 683.7h0M684.7 646.3h0M685.0 677.4h0M685.3 589.7h0M685.5 603.4h0M685.8 664.7h0M686.1 672.2h0M686.3 630.8h0M686.6 623.4h0M686.9 659.7h0M687.1 651.2h0M687.4 663.9h0M687.7 587.4h0M687.9 675.8h0M688.2 678.3h0M688.5 670.2h0M688.8 678.7h0M689.0 614.1h0M689.3 620.0h0M689.6 661.0h0M689.8 688.0h0M690.1 667.5h0M690.4 666.1h0M690.6 657.0h0M690.9 648.9h0M691.2 675.4h0M691.4 633.9h0M691.7 613.7h0M692.0 659.3h0M692.3 673.0h0M692.5 603.3h0M692.8 663.6h0M693.1 674.1h0M693.3 618.2h0M693.6 685.9h0M693.9 607.6h0M694.1 686.4h0M694.4 609.4h0M694.7 682.8h0M694.9 687.6h0M695.2 658.4h0M695.5 667.7h0M695.7 673.9h0M696.0 618.5h0M696.3 633.1h0M696.6 679.1h0M696.8 676.8h0M697.1 682.4h0M697.4 675.3h0M697.6 673.2h0M697.9 623.6h0M698.2 675.4h0M698.4 630.7h0M698.7 683.6h0M699.0 688.6h0M699.2 664.2h0M699.5 663.0h0M699.8 685.3h0M700.0 623.3h0M700.3 661.3h0M700.6 666.8h0M700.9 598.9h0M701.1 661.0h0M701.4 684.8h0M701.7 628.0h0M701.9 649.3h0M702.2 645.2h0M702.5 671.0h0M702.7 665.2h0M703.0 654.9h0M703.3 645.0h0M703.5 654.1h0M703.8 597.9h0M704.1 673.2h0M704.3 640.0h0M704.6 687.7h0M704.9 614.6h0M705.2 688.6h0M705.4 656.2h0M705.7 673.5h0M706.0 674.5h0M706.2 645.3h0M706.5 632.9h0M706.8 662.5h0M707.0 656.4h0M707.3 658.7h0M707.6 618.4h0M707.8 615.5h0M708.1 668.8h0M708.4 648.3h0M708.6 682.9h0M708.9 667.4h0M709.2 663.7h0M709.5 688.6h0M709.7 595.6h0M710.0 688.8h0M710.3 605.0h0M710.5 659.1h0M710.8 679.3h0M711.1 683.5h0M711.3 663.8h0M711.6 673.5h0M711.9 675.7h0M712.1 627.8h0M712.4 626.5h0M712.7 667.4h0M713.0 679.2h0M713.2 650.8h0M713.5 594.3h0M713.8 671.7h0M714.0 680.3h0M714.3 675.3h0M714.6 663.4h0M714.8 673.9h0M715.1 669.2h0M715.4 650.6h0M715.6 648.9h0M715.9 595.9h0M716.2 647.1h0M716.4 668.3h0M716.7 678.6h0M717.0 667.7h0M717.3 647.5h0M717.5 664.9h0M717.8 598.5h0M718.1 636.7h0M718.3 644.7h0M718.6 680.9h0M718.9 638.0h0M719.1 687.9h0M719.4 619.5h0M719.7 626.7h0M719.9 669.2h0M720.2 643.1h0M720.5 618.3h0M720.7 670.3h0M721.0 635.3h0M721.3 672.2h0M721.6 602.8h0M721.8 664.7h0M722.1 601.8h0M722.4 682.9h0M722.6 674.4h0M722.9 652.6h0M723.2 661.4h0M723.4 676.0h0M723.7 676.4h0M724.0 653.7h0M724.2 652.8h0M724.5 644.2h0M724.8 661.0h0M725.0 656.5h0M725.3 666.8h0M725.6 638.0h0M725.9 645.2h0M726.1 614.2h0M726.4 660.6h0M726.7 673.1h0M726.9 684.2h0M727.2 669.1h0M727.5 681.9h0M727.7 685.7h0M728.0 638.8h0M728.3 675.0h0M728.5 668.9h0M728.8 666.5h0M729.1 686.7h0M729.4 663.6h0M729.6 682.0h0M729.9 664.2h0M730.2 604.3h0M730.4 679.6h0M730.7 648.3h0M731.0 610.2h0M731.2 598.8h0M731.5 664.0h0M731.8 614.1h0M732.0 661.7h0M732.3 645.5h0M732.6 609.7h0M732.8 683.9h0M733.1 654.0h0M733.4 658.7h0M733.7 687.0h0M733.9 601.8h0M734.2 654.0h0M734.5 676.6h0M734.7 680.6h0M735.0 662.6h0M735.3 672.0h0M735.5 634.2h0M735.8 676.1h0M736.1 590.4h0M736.3 685.4h0M736.6 633.0h0M736.9 685.7h0M737.1 649.0h0M737.4 678.4h0M737.7 675.8h0M738.0 619.0h0M738.2 675.7h0M738.5 623.3h0M738.8 683.2h0M739.0 663.1h0M739.3 687.4h0M739.6 645.5h0M739.8 686.4h0M740.1 662.3h0M740.4 592.6h0M740.6 675.8h0M740.9 688.0h0M741.2 644.6h0M741.4 669.0h0M741.7 682.3h0M742.0 681.4h0M742.3 688.3h0M742.5 650.0h0M742.8 614.2h0M743.1 596.6h0M743.3 650.4h0M743.6 683.3h0M743.9 648.1h0M744.1 603.3h0M744.4 602.2h0M744.7 673.8h0M744.9 595.9h0M745.2 676.3h0M745.5 600.5h0M745.8 602.8h0M746.0 677.2h0M746.3 669.7h0M746.6 642.5h0M746.8 677.1h0M747.1 647.7h0M747.4 666.8h0M747.6 647.8h0M747.9 649.2h0M748.2 675.4h0M748.4 671.0h0M748.7 673.8h0M749.0 688.1h0M749.2 596.0h0M749.5 627.5h0M749.8 660.1h0M750.1 673.4h0M750.3 640.5h0M750.6 655.8h0M750.9 653.5h0M751.1 685.2h0M751.4 639.5h0M751.7 673.9h0M751.9 657.2h0M752.2 666.2h0M752.5 622.8h0M752.7 636.4h0M753.0 632.4h0M753.3 678.8h0M753.5 677.1h0M753.8 685.9h0M754.1 678.6h0M754.4 651.3h0M754.6 679.3h0M754.9 667.2h0M755.2 662.9h0M755.4 637.1h0M755.7 670.3h0M756.0 680.1h0M756.2 681.9h0M756.5 664.3h0M756.8 618.8h0M757.0 681.1h0M757.3 611.2h0M757.6 642.4h0M757.8 595.5h0M758.1 626.2h0M758.4 616.6h0M758.7 667.2h0M758.9 597.5h0M759.2 686.6h0M759.5 658.6h0M759.7 657.8h0M760.0 670.6h0M760.3 661.3h0M760.5 658.5h0M760.8 674.2h0M761.1 679.6h0M761.3 647.4h0M761.6 605.5h0M761.9 617.8h0M762.2 650.1h0M762.4 626.1h0M762.7 683.1h0M763.0 687.0h0M763.2 653.4h0M763.5 633.1h0M763.8 672.3h0M764.0 619.2h0M764.3 664.8h0M764.6 659.1h0M764.8 605.7h0M765.1 658.8h0M765.4 687.2h0M765.6 622.4h0M765.9 679.2h0M766.2 661.7h0M766.5 647.1h0M766.7 674.3h0M767.0 651.9h0M767.3 659.9h0M767.5 686.9h0M767.8 671.5h0M768.1 667.9h0M768.3 644.3h0M768.6 662.2h0M768.9 636.6h0M769.1 624.0h0M769.4 675.1h0M769.7 675.0h0M769.9 665.0h0M770.2 683.6h0M770.5 673.4h0M770.8 659.1h0M771.0 637.6h0M771.3 667.6h0M771.6 658.0h0M771.8 678.9h0M772.1 632.9h0M772.4 633.6h0M772.6 677.1h0M772.9 651.0h0M773.2 683.2h0M773.4 613.0h0M773.7 672.9h0M774.0 659.7h0M774.2 642.3h0M774.5 626.3h0M774.8 678.8h0M775.1 681.2h0M775.3 634.1h0M775.6 684.3h0M775.9 675.8h0M776.1 683.6h0M776.4 646.9h0M776.7 673.1h0M776.9 667.3h0M777.2 655.8h0M777.5 667.2h0M777.7 672.6h0M778.0 686.7h0M778.3 649.0h0M778.5 633.9h0M778.8 660.2h0M779.1 634.6h0M779.4 639.2h0M779.6 650.1h0M779.9 685.8h0M780.2 682.9h0M780.4 672.1h0M780.7 626.9h0M781.0 649.4h0M781.2 652.7h0M781.5 640.1h0M781.8 627.2h0M782.0 684.5h0M782.3 657.7h0M782.6 672.0h0M782.9 674.1h0M783.1 640.5h0M783.4 651.5h0M783.7 633.9h0M783.9 664.5h0M784.2 665.5h0M784.5 669.1h0M784.7 672.3h0M785.0 643.3h0M785.3 622.7h0M785.5 642.6h0M785.8 610.9h0M786.1 684.3h0M786.3 636.0h0M786.6 624.5h0M786.9 663.4h0M787.2 655.2h0M787.4 643.2h0M787.7 686.4h0M788.0 640.8h0M788.2 684.2h0M788.5 668.2h0M788.8 652.6h0M789.0 665.8h0M789.3 686.8h0M789.6 667.5h0M789.8 688.7h0M790.1 648.2h0M790.4 677.0h0M790.6 652.6h0M790.9 684.6h0M791.2 629.8h0M791.5 689.0h0M791.7 681.6h0M792.0 645.8h0M792.3 680.1h0M792.5 668.8h0M792.8 654.3h0M793.1 627.2h0M793.3 671.9h0M793.6 664.3h0M793.9 656.3h0M794.1 660.1h0M794.4 677.0h0M794.7 653.7h0M794.9 632.6h0M795.2 659.5h0M795.5 660.9h0M795.8 631.3h0M796.0 662.1h0M796.3 662.3h0M796.6 673.6h0M796.8 640.2h0M797.1 640.7h0M797.4 671.3h0M797.6 633.5h0M797.9 629.7h0M798.2 616.6h0M798.4 654.1h0M798.7 659.2h0M799.0 662.4h0M799.3 688.7h0M799.5 652.8h0M799.8 674.3h0M800.1 674.6h0M800.3 672.9h0M800.6 665.6h0M800.9 630.3h0M801.1 634.4h0M801.4 653.2h0M801.7 662.9h0M801.9 630.0h0M802.2 681.3h0M802.5 688.6h0M802.7 673.0h0M803.0 665.9h0M803.3 646.0h0M803.6 629.2h0M803.8 663.7h0M804.1 676.6h0M804.4 639.0h0M804.6 678.6h0M804.9 665.3h0M805.2 672.1h0M805.4 659.0h0M805.7 676.3h0M806.0 639.6h0M806.2 668.8h0M806.5 625.1h0M806.8 658.1h0M807.0 683.4h0M807.3 641.2h0M807.6 650.0h0M807.9 628.3h0M808.1 667.9h0M808.4 632.2h0M808.7 672.2h0M808.9 635.6h0M809.2 660.8h0M809.5 672.5h0M809.7 671.5h0M810.0 630.3h0M810.3 647.7h0M810.5 681.1h0M810.8 641.5h0M811.1 656.6h0M811.3 684.1h0M811.6 680.6h0M811.9 633.7h0M812.2 671.4h0M812.4 632.3h0M812.7 655.5h0M813.0 667.1h0M813.2 688.1h0M813.5 688.9h0M813.8 661.5h0M814.0 657.7h0M814.3 686.7h0M814.6 684.6h0M814.8 635.6h0M815.1 673.7h0M815.4 667.8h0M815.7 657.6h0M815.9 654.3h0M816.2 657.8h0M816.5 657.5h0M816.7 659.2h0M817.0 648.0h0M817.3 642.3h0M817.5 676.2h0M817.8 658.4h0M818.1 636.8h0M818.3 680.5h0M818.6 635.7h0M818.9 668.1h0M819.1 649.3h0M819.4 673.4h0M819.7 665.4h0M820.0 683.5h0M820.2 634.6h0M820.5 671.7h0M820.8 656.3h0M821.0 670.4h0M821.3 650.3h0M821.6 666.4h0M821.8 644.5h0M822.1 645.7h0M822.4 682.9h0M822.6 672.6h0M822.9 676.9h0M823.2 677.1h0M823.4 663.5h0M823.7 679.2h0M824.0 674.5h0M824.3 640.6h0M824.5 631.8h0M824.8 663.4h0M825.1 672.7h0M825.3 632.1h0M825.6 641.2h0M825.9 677.9h0M826.1 668.9h0M826.4 665.8h0M826.7 679.5h0M826.9 666.9h0M827.2 686.6h0M827.5 667.8h0M827.7 646.5h0M828.0 627.6h0M828.3 683.8h0M828.6 678.3h0M828.8 641.3h0M829.1 689.0h0M829.4 638.7h0M829.6 638.9h0M829.9 639.6h0M830.2 645.9h0M830.4 634.7h0M830.7 678.8h0M831.0 656.3h0M831.2 665.5h0M831.5 631.6h0M831.8 632.3h0M832.1 685.3h0M832.3 652.1h0M832.6 626.9h0M832.9 663.9h0M833.1 640.4h0M833.4 686.9h0M833.7 689.0h0M833.9 656.0h0M834.2 633.3h0M834.5 639.0h0M834.7 665.0h0M835.0 684.2h0M835.3 664.1h0M835.5 686.5h0M835.8 663.3h0M836.1 659.3h0M836.4 660.3h0M836.6 667.6h0M836.9 683.4h0M837.2 632.0h0M837.4 634.5h0M837.7 639.8h0M838.0 650.4h0M838.2 621.3h0M838.5 637.6h0M838.8 659.4h0M839.0 657.0h0M839.3 651.3h0M839.6 683.7h0M839.8 679.3h0M840.1 686.2h0M840.4 650.4h0M840.7 685.2h0M840.9 636.1h0M841.2 679.6h0M841.5 652.7h0M841.7 642.6h0M842.0 666.0h0M842.3 671.9h0M842.5 676.2h0M842.8 618.5h0M843.1 658.3h0M843.3 639.9h0M843.6 649.9h0M843.9 663.8h0M844.1 678.0h0M844.4 640.6h0M844.7 628.2h0M845.0 681.3h0M845.2 669.6h0M845.5 659.6h0M845.8 671.4h0M846.0 646.9h0M846.3 668.6h0M846.6 663.6h0M846.8 663.3h0M847.1 636.2h0M847.4 686.8h0M847.6 634.9h0M847.9 683.8h0M848.2 681.3h0M848.5 661.6h0M848.7 655.9h0M849.0 633.8h0M849.3 672.4h0M849.5 661.6h0M849.8 678.5h0M850.1 628.7h0M850.3 666.2h0M850.6 624.0h0M850.9 681.4h0M851.1 686.8h0M851.4 677.8h0M851.7 631.8h0M851.9 637.1h0M852.2 657.3h0M852.5 646.8h0M852.8 672.0h0M853.0 628.5h0M853.3 647.8h0M853.6 673.2h0M853.8 661.4h0M854.1 680.4h0M854.4 663.5h0M854.6 658.2h0M854.9 639.8h0M855.2 641.3h0M855.4 646.1h0M855.7 668.5h0M856.0 689.0h0M856.2 642.1h0M856.5 677.0h0M856.8 635.0h0M857.1 639.2h0M857.3 676.6h0M857.6 632.5h0M857.9 632.0h0M858.1 631.2h0M858.4 689.0h0M858.7 667.7h0M858.9 671.0h0M859.2 665.6h0M859.5 633.8h0M859.7 666.2h0M860.0 663.3h0M860.3 640.0h0M860.5 682.7h0M860.8 658.0h0M861.1 656.6h0M861.4 644.4h0M861.6 638.3h0M861.9 683.1h0M862.2 634.3h0M862.4 681.2h0M862.7 632.9h0M863.0 659.2h0M863.2 686.3h0M863.5 626.5h0M863.8 637.6h0M864.0 649.9h0M864.3 641.1h0M864.6 674.3h0M864.8 634.7h0M865.1 645.4h0M865.4 640.3h0M865.7 672.8h0M865.9 631.1h0M866.2 668.6h0M866.5 638.3h0M866.7 686.8h0M867.0 641.7h0M867.3 632.7h0M867.5 682.1h0M867.8 688.6h0M868.1 686.5h0M868.3 679.9h0M868.6 661.1h0M868.9 674.3h0M869.2 660.4h0M869.4 674.0h0M869.7 668.5h0M870.0 631.8h0M870.2 680.8h0M870.5 688.4h0M870.8 656.7h0M871.0 648.4h0M871.3 664.0h0M871.6 649.1h0M871.8 635.8h0M872.1 672.8h0M872.4 683.0h0M872.6 638.1h0M872.9 677.2h0M873.2 670.3h0M873.5 630.2h0M873.7 661.6h0M874.0 677.7h0M874.3 650.0h0M874.5 655.4h0M874.8 676.9h0M875.1 628.1h0M875.3 678.4h0M875.6 657.8h0M875.9 665.0h0M876.1 668.7h0M876.4 680.0h0M876.7 676.6h0M876.9 629.2h0M877.2 681.5h0M877.5 631.1h0M877.8 649.2h0M878.0 662.4h0M878.3 669.4h0M878.6 688.9h0M878.8 684.2h0M879.1 663.2h0M879.4 680.0h0M879.6 673.5h0M879.9 686.5h0M880.2 661.9h0M880.4 668.3h0M880.7 640.0h0M881.0 656.6h0M881.2 665.1h0M881.5 649.5h0M881.8 636.1h0M882.1 622.2h0M882.3 680.9h0M882.6 670.5h0M882.9 676.3h0M883.1 654.1h0M883.4 668.4h0M883.7 669.4h0M883.9 667.0h0M884.2 652.5h0M884.5 674.6h0M884.7 687.8h0M885.0 663.3h0M885.3 668.0h0M885.6 685.5h0M885.8 661.6h0M886.1 667.0h0M886.4 679.6h0M886.6 684.4h0M886.9 632.9h0M887.2 678.5h0M887.4 662.2h0M887.7 679.7h0M888.0 673.6h0M888.2 657.3h0M888.5 639.7h0M888.8 688.7h0M889.0 668.5h0M889.3 672.2h0M889.6 687.3h0M889.9 680.2h0M890.1 685.3h0M890.4 641.6h0M890.7 643.7h0M890.9 667.9h0M891.2 669.7h0M891.5 641.0h0M891.7 677.8h0M892.0 620.8h0M892.3 671.8h0M892.5 629.9h0M892.8 635.6h0M893.1 648.3h0M893.3 676.1h0M893.6 645.1h0M893.9 679.9h0M894.2 686.1h0M894.4 665.4h0M894.7 682.2h0M895.0 688.0h0M895.2 659.6h0M895.5 680.6h0M895.8 644.0h0M896.0 668.5h0M896.3 641.4h0M896.6 660.6h0M896.8 687.1h0M897.1 685.5h0M897.4 680.3h0M897.6 683.8h0M897.9 662.6h0M898.2 664.8h0M898.5 641.6h0M898.7 644.1h0M899.0 679.5h0M899.3 676.4h0M899.5 646.2h0M899.8 640.6h0M900.1 660.2h0M900.3 681.1h0M900.6 664.5h0M900.9 667.3h0M901.1 633.0h0M901.4 669.7h0M901.7 668.5h0M902.0 663.7h0M902.2 685.5h0M902.5 661.9h0M902.8 681.0h0M903.0 654.3h0M903.3 667.3h0M903.6 677.9h0M903.8 678.5h0M904.1 648.8h0M904.4 665.6h0M904.6 658.7h0M904.9 646.1h0M905.2 660.5h0M905.4 684.7h0M905.7 670.8h0M906.0 666.4h0M906.3 637.0h0M906.5 671.2h0M906.8 634.2h0M907.1 667.0h0M907.3 687.5h0M907.6 667.8h0M907.9 645.7h0M908.1 671.6h0M908.4 671.5h0M908.7 678.8h0M908.9 661.6h0M909.2 655.6h0M909.5 675.0h0M909.7 683.8h0M910.0 645.5h0M910.3 634.4h0M910.6 634.4h0M910.8 641.9h0M911.1 680.0h0M911.4 685.2h0M911.6 636.4h0M911.9 673.3h0M912.2 634.4h0M912.4 680.8h0M912.7 671.7h0M913.0 684.6h0M913.2 685.6h0M913.5 688.0h0M913.8 645.8h0M914.0 688.9h0M914.3 649.5h0M914.6 640.1h0M914.9 674.8h0M915.1 654.1h0M915.4 688.9h0M915.7 673.1h0M915.9 638.4h0M916.2 687.3h0M916.5 685.8h0M916.7 668.9h0M917.0 658.1h0M917.3 674.0h0M917.5 649.9h0M917.8 677.9h0M918.1 638.9h0M918.4 630.6h0M918.6 661.8h0M918.9 625.8h0M919.2 648.1h0M919.4 666.6h0M919.7 677.5h0M920.0 687.8h0M920.2 643.1h0M920.5 646.3h0M920.8 670.5h0M921.0 664.7h0M921.3 656.5h0M921.6 675.1h0M921.8 660.0h0M922.1 644.0h0M922.4 686.1h0M922.7 663.2h0M922.9 644.1h0M923.2 669.0h0M923.5 660.8h0M923.7 631.5h0M924.0 680.2h0M924.3 678.9h0M924.5 655.7h0M924.8 668.1h0M925.1 662.2h0M925.3 683.5h0M925.6 648.4h0M925.9 644.0h0M926.1 668.1h0M926.4 640.3h0M926.7 665.8h0M927.0 653.1h0M927.2 686.7h0M927.5 683.1h0M927.8 653.2h0M928.0 624.0h0M928.3 685.7h0M928.6 676.1h0M928.8 636.6h0M929.1 683.1h0M929.4 671.4h0M929.6 665.0h0M929.9 684.2h0M930.2 631.2h0M930.4 650.6h0M930.7 639.5h0M931.0 662.4h0M931.3 665.2h0M931.5 661.0h0M931.8 684.6h0M932.1 672.8h0M932.3 667.0h0M932.6 665.4h0M932.9 657.0h0M933.1 654.1h0M933.4 636.5h0M933.7 681.9h0M933.9 679.8h0M934.2 671.5h0M934.5 639.4h0M934.7 660.4h0M935.0 670.0h0M935.3 683.0h0M935.6 680.2h0M935.8 662.0h0M936.1 674.0h0M936.4 630.3h0M936.6 675.9h0M936.9 657.3h0M937.2 680.4h0M937.4 685.6h0M937.7 687.7h0M938.0 676.2h0M938.2 683.9h0M938.5 676.4h0M938.8 675.2h0M939.1 661.3h0M939.3 649.2h0M939.6 658.8h0M939.9 674.5h0M940.1 665.5h0M940.4 659.3h0M940.7 649.7h0M940.9 645.0h0M941.2 668.9h0M941.5 666.1h0M941.7 648.3h0M942.0 686.6h0M942.3 661.1h0M942.5 647.4h0M942.8 656.2h0M943.1 662.9h0M943.4 671.9h0M943.6 670.6h0M943.9 674.4h0M944.2 679.9h0M944.4 676.0h0M944.7 662.9h0M945.0 666.3h0M945.2 681.4h0M945.5 646.5h0M945.8 651.0h0M946.0 665.4h0M946.3 681.7h0M946.6 674.9h0M946.8 688.1h0M947.1 634.4h0M947.4 663.0h0M947.7 645.0h0M947.9 617.1h0M948.2 660.9h0M948.5 675.0h0M948.7 656.7h0M949.0 668.1h0M949.3 682.5h0M949.5 653.7h0M949.8 679.9h0M950.1 630.7h0M950.3 680.5h0M950.6 683.2h0M950.9 672.8h0M951.1 666.8h0M951.4 685.5h0M951.7 641.3h0M952.0 671.0h0M952.2 656.8h0M952.5 689.0h0M952.8 666.4h0M953.0 670.2h0M953.3 660.7h0M953.6 655.5h0M953.8 649.2h0M954.1 635.9h0M954.4 680.8h0M954.6 683.2h0M954.9 679.0h0M955.2 678.0h0M955.5 665.0h0M955.7 688.6h0M956.0 682.5h0M956.3 651.3h0M956.5 667.3h0M956.8 670.5h0M957.1 665.3h0M957.3 661.5h0M957.6 662.4h0M957.9 664.8h0M958.1 680.3h0M958.4 687.4h0M958.7 664.7h0M958.9 648.6h0M959.2 664.0h0M959.5 634.7h0M959.8 658.0h0M960.0 643.9h0M960.3 668.1h0M960.6 647.4h0M960.8 675.1h0M961.1 673.0h0M961.4 624.6h0M961.6 680.7h0M961.9 688.9h0M962.2 678.3h0M962.4 653.2h0M962.7 677.3h0M963.0 676.6h0M963.2 681.8h0M963.5 673.3h0M963.8 666.7h0M964.1 682.3h0M964.3 654.9h0M964.6 636.7h0M964.9 687.8h0M965.1 672.1h0M965.4 686.3h0M965.7 641.8h0M965.9 689.0h0M966.2 670.8h0M966.5 675.6h0M966.7 650.3h0M967.0 685.2h0M967.3 661.4h0M967.5 641.2h0M967.8 687.6h0M968.1 659.9h0M968.4 664.2h0M968.6 636.0h0M968.9 673.0h0M969.2 672.1h0M969.4 672.4h0M969.7 678.6h0M970.0 682.6h0M970.2 679.9h0M970.5 689.0h0M970.8 664.9h0M971.0 644.3h0M971.3 649.4h0M971.6 649.0h0M971.9 653.7h0M972.1 659.9h0M972.4 664.0h0M972.7 685.2h0M972.9 669.2h0M973.2 684.9h0M973.5 673.2h0M973.7 675.5h0M974.0 662.7h0M974.3 685.3h0M974.5 639.9h0M974.8 639.9h0M975.1 685.1h0M975.3 662.4h0M975.6 687.8h0M975.9 679.1h0M976.2 678.7h0M976.4 676.9h0M976.7 674.5h0M977.0 654.8h0M977.2 667.0h0M977.5 638.4h0M977.8 686.3h0M978.0 664.0h0M978.3 674.0h0M978.6 664.4h0M978.8 641.8h0M979.1 651.1h0M979.4 640.4h0M979.6 651.5h0M979.9 684.8h0M980.2 683.7h0M980.5 644.8h0M980.7 677.5h0M981.0 648.9h0M981.3 649.1h0M981.5 682.7h0M981.8 667.0h0M982.1 660.7h0M982.3 675.0h0M982.6 657.9h0M982.9 665.9h0M983.1 679.4h0M983.4 682.5h0M983.7 657.4h0M983.9 628.8h0M984.2 655.0h0M984.5 640.8h0M984.8 667.6h0M985.0 678.2h0M985.3 667.8h0M985.6 672.6h0M985.8 638.2h0M986.1 680.3h0M986.4 664.2h0M986.6 682.5h0M986.9 657.0h0M987.2 667.4h0M987.4 649.2h0M987.7 675.2h0M988.0 666.9h0M988.2 687.5h0M988.5 648.3h0M988.8 673.0h0M989.1 670.8h0M989.3 676.0h0M989.6 664.9h0M989.9 653.9h0M990.1 683.4h0M990.4 684.4h0M990.7 662.1h0M990.9 668.3h0M991.2 684.1h0M991.5 685.6h0M991.7 676.5h0M992.0 663.4h0M992.3 635.5h0M992.6 638.2h0M992.8 665.4h0M993.1 680.1h0M993.4 670.5h0M993.6 685.3h0M993.9 629.5h0M994.2 644.7h0M994.4 671.7h0M994.7 670.6h0M995.0 678.4h0M995.2 684.6h0M995.5 684.7h0M995.8 688.5h0M996.0 682.5h0M996.3 652.1h0M996.6 680.6h0M996.9 636.5h0M997.1 648.0h0M997.4 635.1h0M997.7 674.1h0M997.9 666.9h0M998.2 633.9h0M998.5 660.7h0M998.7 685.7h0M999.0 645.1h0M999.3 672.0h0M999.5 651.9h0M999.8 660.3h0M1000.1 647.1h0M1000.3 668.6h0M1000.6 670.8h0M1000.9 650.6h0M1001.2 628.6h0M1001.4 653.5h0M1001.7 656.8h0M1002.0 653.8h0M1002.2 667.5h0M1002.5 681.3h0M1002.8 649.5h0M1003.0 667.6h0M1003.3 688.0h0M1003.6 674.8h0M1003.8 650.3h0M1004.1 651.6h0M1004.4 640.1h0M1004.6 677.0h0M1004.9 680.4h0M1005.2 678.3h0M1005.5 669.9h0M1005.7 669.3h0M1006.0 680.9h0M1006.3 647.3h0M1006.5 668.2h0M1006.8 677.9h0M1007.1 627.4h0M1007.3 668.3h0M1007.6 663.4h0M1007.9 684.2h0M1008.1 681.9h0M1008.4 654.0h0M1008.7 649.3h0M1009.0 684.8h0M1009.2 663.7h0M1009.5 684.7h0M1009.8 670.3h0M1010.0 688.0h0M1010.3 665.9h0M1010.6 653.6h0M1010.8 688.2h0M1011.1 640.4h0M1011.4 650.1h0M1011.6 676.4h0M1011.9 665.0h0M1012.2 673.6h0M1012.4 677.2h0M1012.7 674.4h0M1013.0 662.9h0M1013.3 637.4h0M1013.5 666.8h0M1013.8 646.4h0M1014.1 678.2h0M1014.3 675.7h0M1014.6 673.1h0M1014.9 684.1h0M1015.1 664.5h0M1015.4 679.2h0M1015.7 655.7h0M1015.9 649.1h0M1016.2 640.8h0M1016.5 633.2h0M1016.7 671.4h0M1017.0 652.5h0M1017.3 676.2h0M1017.6 679.9h0M1017.8 642.7h0M1018.1 633.3h0M1018.4 674.0h0M1018.6 665.6h0M1018.9 665.8h0M1019.2 688.3h0M1019.4 664.7h0M1019.7 667.5h0M1020.0 670.8h0M1020.2 640.3h0M1020.5 656.4h0M1020.8 671.8h0M1021.0 623.7h0M1021.3 688.6h0M1021.6 689.0h0M1021.9 664.0h0M1022.1 666.7h0M1022.4 641.1h0M1022.7 672.7h0M1022.9 661.1h0M1023.2 659.0h0M1023.5 659.7h0M1023.7 648.9h0M1024.0 644.6h0M1024.3 685.5h0M1024.5 663.3h0M1024.8 665.7h0M1025.1 685.4h0M1025.4 687.6h0M1025.6 675.2h0M1025.9 670.6h0M1026.2 663.0h0M1026.4 680.8h0M1026.7 653.4h0M1027.0 666.4h0M1027.2 664.6h0M1027.5 665.9h0M1027.8 648.0h0M1028.0 679.9h0M1028.3 671.2h0M1028.6 676.8h0M1028.8 676.7h0M1029.1 680.9h0M1029.4 685.1h0M1029.7 685.5h0M1029.9 658.8h0M1030.2 644.7h0M1030.5 642.3h0M1030.7 640.3h0M1031.0 666.5h0M1031.3 679.1h0M1031.5 659.4h0M1031.8 664.6h0M1032.1 689.0h0M1032.3 681.9h0M1032.6 671.8h0M1032.9 667.4h0M1033.1 667.4h0M1033.4 687.2h0M1033.7 679.8h0M1034.0 678.7h0M1034.2 670.1h0M1034.5 682.7h0M1034.8 654.5h0M1035.0 671.9h0M1035.3 655.6h0M1035.6 666.3h0M1035.8 668.8h0M1036.1 661.6h0M1036.4 664.2h0M1036.6 667.8h0M1036.9 686.2h0M1037.2 671.5h0M1037.4 646.0h0M1037.7 646.8h0M1038.0 661.2h0M1038.3 652.4h0M1038.5 682.0h0M1038.8 664.0h0M1039.1 677.3h0M1039.3 619.5h0M1039.6 670.5h0M1039.9 660.1h0M1040.1 680.7h0M1040.4 682.3h0M1040.7 670.2h0M1040.9 663.9h0M1041.2 677.3h0M1041.5 665.8h0M1041.8 648.5h0M1042.0 666.0h0M1042.3 674.3h0M1042.6 652.9h0M1042.8 638.8h0M1043.1 670.3h0M1043.4 680.1h0M1043.6 678.0h0M1043.9 669.2h0M1044.2 666.1h0M1044.4 671.5h0M1044.7 666.2h0M1045.0 639.0h0M1045.2 663.8h0M1045.5 675.4h0M1045.8 686.5h0M1046.1 650.3h0M1046.3 681.8h0M1046.6 687.5h0M1046.9 660.9h0M1047.1 637.4h0M1047.4 666.9h0M1047.7 674.3h0M1047.9 683.6h0M1048.2 667.9h0M1048.5 680.7h0M1048.7 675.7h0M1049.0 678.8h0M1049.3 651.2h0M1049.5 674.4h0M1049.8 659.4h0M1050.1 684.3h0M1050.4 648.9h0M1050.6 636.8h0M1050.9 664.0h0M1051.2 658.2h0M1051.4 653.8h0M1051.7 680.2h0M1052.0 652.3h0M1052.2 679.8h0M1052.5 666.0h0M1052.8 684.3h0M1053.0 668.8h0M1053.3 641.6h0M1053.6 685.4h0M1053.8 663.5h0M1054.1 670.8h0M1054.4 684.9h0M1054.7 655.7h0M1054.9 663.4h0M1055.2 677.9h0M1055.5 675.7h0M1055.7 660.3h0M1056.0 684.6h0M1056.3 685.5h0M1056.5 677.0h0M1056.8 668.3h0M1057.1 688.2h0M1057.3 681.6h0M1057.6 681.2h0M1057.9 641.9h0M1058.2 686.7h0M1058.4 669.6h0M1058.7 686.3h0M1059.0 688.1h0M1059.2 644.9h0M1059.5 665.2h0M1059.8 645.9h0M1060.0 684.6h0M1060.3 686.0h0M1060.6 682.8h0M1060.8 671.3h0M1061.1 656.7h0M1061.4 653.1h0M1061.6 676.3h0M1061.9 669.3h0M1062.2 688.8h0M1062.5 666.2h0M1062.7 653.4h0M1063.0 666.3h0M1063.3 681.5h0M1063.5 658.6h0M1063.8 662.9h0M1064.1 664.9h0M1064.3 645.8h0M1064.6 658.5h0M1064.9 637.6h0M1065.1 659.5h0M1065.4 647.3h0M1065.7 620.1h0M1065.9 682.0h0M1066.2 679.1h0M1066.5 675.8h0M1066.8 634.5h0M1067.0 683.8h0M1067.3 682.5h0M1067.6 668.2h0M1067.8 679.4h0M1068.1 684.5h0M1068.4 688.9h0M1068.6 685.1h0M1068.9 672.4h0M1069.2 622.8h0M1069.4 638.5h0M1069.7 661.9h0M1070.0 662.8h0M1070.2 687.5h0M1070.5 685.8h0M1070.8 667.5h0M1071.1 683.1h0M1071.3 673.4h0M1071.6 686.8h0M1071.9 665.2h0M1072.1 672.7h0M1072.4 656.4h0M1072.7 640.9h0M1072.9 656.5h0M1073.2 650.6h0M1073.5 676.8h0M1073.7 688.6h0M1074.0 631.8h0M1074.3 682.0h0M1074.5 668.7h0M1074.8 640.7h0M1075.1 659.8h0M1075.4 667.2h0M1075.6 662.9h0M1075.9 680.9h0M1076.2 657.4h0M1076.4 685.4h0M1076.7 664.3h0M1077.0 656.4h0M1077.2 640.8h0M1077.5 679.0h0M1077.8 673.4h0M1078.0 682.0h0M1078.3 667.4h0M1078.6 669.8h0M1078.9 634.7h0M1079.1 670.6h0M1079.4 671.2h0M1079.7 664.7h0M1079.9 679.9h0M1080.2 686.8h0M1080.5 640.1h0M1080.7 636.1h0M1081.0 674.5h0M1081.3 655.0h0M1081.5 678.3h0M1081.8 688.0h0M1082.1 676.7h0M1082.3 628.7h0M1082.6 662.9h0M1082.9 653.2h0M1083.2 673.9h0M1083.4 683.0h0M1083.7 674.4h0M1084.0 673.7h0M1084.2 656.6h0M1084.5 680.6h0M1084.8 674.7h0M1085.0 675.8h0M1085.3 689.0h0M1085.6 676.9h0M1085.8 679.2h0M1086.1 678.3h0M1086.4 672.5h0M1086.6 642.7h0M1086.9 664.6h0M1087.2 666.6h0M1087.5 678.8h0M1087.7 665.2h0M1088.0 688.6h0M1088.3 676.8h0M1088.5 679.2h0M1088.8 668.1h0M1089.1 640.7h0M1089.3 675.9h0M1089.6 679.6h0M1089.9 654.7h0M1090.1 686.5h0M1090.4 667.6h0M1090.7 640.4h0M1090.9 667.8h0M1091.2 643.2h0M1091.5 675.3h0M1091.8 667.4h0M1092.0 680.9h0M1092.3 669.8h0M1092.6 661.7h0M1092.8 674.1h0M1093.1 680.4h0M1093.4 654.0h0M1093.6 683.8h0M1093.9 663.1h0M1094.2 686.3h0M1094.4 685.4h0M1094.7 646.0h0M1095.0 663.9h0M1095.3 667.2h0M1095.5 647.8h0M1095.8 633.9h0M1096.1 642.4h0M1096.3 667.2h0M1096.6 661.2h0M1096.9 627.3h0M1097.1 664.2h0M1097.4 679.7h0M1097.7 647.9h0M1097.9 680.2h0M1098.2 652.1h0M1098.5 645.4h0M1098.7 675.3h0M1099.0 671.2h0M1099.3 674.0h0M1099.6 674.4h0M1099.8 667.4h0M1100.1 659.1h0M1100.4 670.9h0M1100.6 668.4h0M1100.9 667.4h0M1101.2 688.0h0M1101.4 629.7h0M1101.7 678.5h0M1102.0 675.0h0M1102.2 686.0h0M1102.5 679.5h0M1102.8 649.7h0M1103.0 674.5h0M1103.3 646.0h0M1103.6 665.6h0M1103.9 683.4h0M1104.1 677.6h0M1104.4 672.5h0M1104.7 668.6h0M1104.9 671.5h0M1105.2 678.1h0M1105.5 670.5h0M1105.7 651.6h0M1106.0 636.8h0M1106.3 649.7h0M1106.5 682.9h0M1106.8 675.4h0M1107.1 664.2h0M1107.3 631.3h0M1107.6 675.0h0M1107.9 652.6h0M1108.2 662.2h0M1108.4 640.7h0M1108.7 684.3h0M1109.0 626.1h0M1109.2 675.4h0M1109.5 683.0h0M1109.8 674.2h0M1110.0 670.9h0M1110.3 670.2h0M1110.6 662.9h0M1110.8 667.7h0M1111.1 650.9h0M1111.4 646.6h0M1111.7 679.3h0M1111.9 639.3h0M1112.2 672.7h0M1112.5 676.8h0M1112.7 678.3h0M1113.0 683.8h0M1113.3 672.4h0M1113.5 673.7h0M1113.8 684.9h0M1114.1 688.0h0M1114.3 688.1h0M1114.6 675.0h0M1114.9 653.7h0M1115.1 679.3h0M1115.4 673.8h0M1115.7 688.0h0M1116.0 623.3h0M1116.2 651.3h0M1116.5 657.4h0M1116.8 627.6h0M1117.0 668.6h0M1117.3 647.6h0M1117.6 667.8h0M1117.8 681.8h0M1118.1 672.1h0M1118.4 657.5h0M1118.6 688.6h0M1118.9 683.5h0M1119.2 682.4h0M1119.4 661.0h0M1119.7 685.6h0M1120.0 688.7h0M1120.3 680.4h0M1120.5 663.8h0M1120.8 681.6h0M1121.1 649.5h0M1121.3 673.5h0M1121.6 656.1h0M1121.9 682.1h0M1122.1 666.8h0M1122.4 677.2h0M1122.7 652.8h0M1122.9 674.7h0M1123.2 676.5h0M1123.5 663.2h0M1123.7 674.6h0M1124.0 688.7h0M1124.3 662.4h0M1124.6 679.9h0M1124.8 650.1h0M1125.1 670.0h0M1125.4 666.2h0M1125.6 639.9h0M1125.9 686.8h0M1126.2 687.5h0M1126.4 666.3h0M1126.7 676.3h0M1127.0 659.1h0M1127.2 639.3h0M1127.5 636.5h0M1127.8 654.9h0M1128.0 674.4h0M1128.3 664.5h0M1128.6 657.7h0M1128.9 680.5h0M1129.1 657.8h0M1129.4 676.2h0M1129.7 680.3h0M1129.9 642.0h0M1130.2 672.9h0M1130.5 663.8h0M1130.7 667.4h0M1131.0 670.2h0M1131.3 687.2h0M1131.5 673.3h0M1131.8 670.4h0M1132.1 665.8h0M1132.4 673.4h0M1132.6 650.4h0M1132.9 681.6h0M1133.2 644.1h0M1133.4 646.9h0M1133.7 659.5h0M1134.0 677.2h0M1134.2 634.5h0M1134.5 683.5h0M1134.8 666.6h0M1135.0 658.2h0M1135.3 649.5h0M1135.6 650.1h0M1135.8 683.9h0M1136.1 634.7h0M1136.4 640.7h0M1136.7 681.5h0M1136.9 683.3h0M1137.2 663.9h0M1137.5 684.3h0M1137.7 674.1h0M1138.0 668.3h0M1138.3 660.7h0M1138.5 688.8h0M1138.8 636.5h0M1139.1 682.0h0M1139.3 649.1h0M1139.6 673.6h0M1139.9 664.6h0M1140.1 662.1h0M1140.4 679.6h0M1140.7 684.6h0M1141.0 671.4h0M1141.2 675.2h0M1141.5 687.5h0M1141.8 649.2h0M1142.0 689.0h0M1142.3 669.5h0M1142.6 641.7h0M1142.8 687.6h0M1143.1 673.2h0M1143.4 669.4h0M1143.6 672.9h0M1143.9 681.5h0M1144.2 681.7h0M1144.4 666.5h0M1144.7 653.2h0M1145.0 675.3h0M1145.3 655.6h0M1145.5 683.4h0M1145.8 669.1h0M1146.1 651.8h0M1146.3 670.8h0M1146.6 679.4h0M1146.9 667.0h0M1147.1 661.3h0M1147.4 639.8h0M1147.7 673.5h0M1147.9 684.8h0M1148.2 652.3h0M1148.5 648.3h0M1148.8 687.2h0M1149.0 673.2h0M1149.3 643.0h0M1149.6 644.0h0M1149.8 689.0h0M1150.1 644.5h0M1150.4 665.7h0M1150.6 683.0h0M1150.9 677.3h0M1151.2 672.4h0M1151.4 677.0h0M1151.7 678.8h0M1152.0 681.1h0M1152.2 666.8h0M1152.5 654.6h0M1152.8 672.6h0M1153.1 671.3h0M1153.3 641.0h0M1153.6 687.7h0M1153.9 685.4h0M1154.1 658.8h0M1154.4 661.0h0M1154.7 674.8h0M1154.9 674.1h0M1155.2 685.7h0M1155.5 665.1h0M1155.7 666.0h0M1156.0 682.1h0M1156.3 637.7h0M1156.5 678.6h0M1156.8 681.2h0M1157.1 651.4h0M1157.4 627.1h0M1157.6 668.0h0M1157.9 661.0h0M1158.2 649.6h0M1158.4 659.5h0M1158.7 667.1h0M1159.0 665.2h0M1159.2 625.9h0M1159.5 681.7h0M1159.8 677.3h0M1160.0 664.6h0M1160.3 669.9h0M1160.6 681.5h0M1160.8 672.0h0M1161.1 670.9h0M1161.4 673.6h0M1161.7 680.2h0M1161.9 678.1h0M1162.2 672.9h0M1162.5 648.9h0M1162.7 678.6h0"/>
</g>
<circle cx="433" cy="52" r="12" fill="#4285f4"/>
<circle cx="661" cy="52" r="12" fill="#db4437"/>
<g font-size="23.6" style="filter:grayscale(1)">
<text x="461.3" y="60.9" textLength="155.0" lengthAdjust="spacingAndGlyphs">Insert Efficient</text>
<text x="689.2" y="61.0" textLength="90.0" lengthAdjust="spacingAndGlyphs">Random</text>
<g text-anchor="end">
<text x="102.4" y="115.9" textLength="65.3" lengthAdjust="spacingAndGlyphs">80000</text>
<text x="102.4" y="261.7" textLength="65.3" lengthAdjust="spacingAndGlyphs">60000</text>
<text x="102.4" y="407.2" textLength="65.3" lengthAdjust="spacingAndGlyphs">40000</text>
<text x="102.4" y="553.0" textLength="65.3" lengthAdjust="spacingAndGlyphs">20000</text>
<text x="102.0" y="698.8" textLength="12.3" lengthAdjust="spacingAndGlyphs">0</text>
</g></g>
</svg>
</body></html>
